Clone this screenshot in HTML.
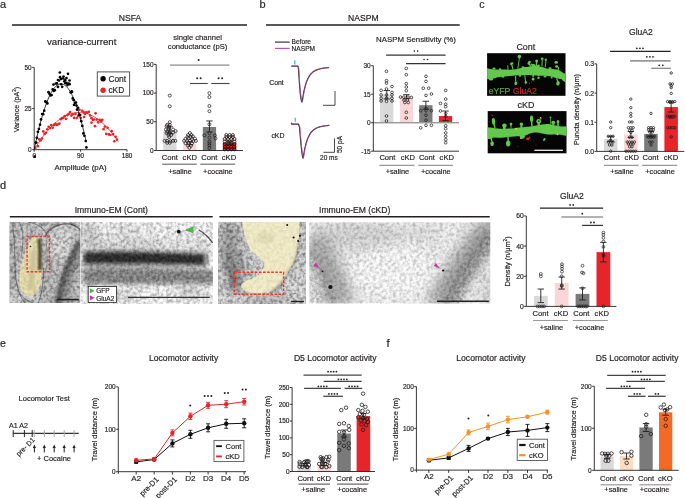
<!DOCTYPE html><html><head><meta charset="utf-8"><title>Figure</title><style>html,body{margin:0;padding:0;background:#fff;width:685px;height:498px;overflow:hidden;}svg{display:block;font-family:"Liberation Sans", sans-serif;will-change:transform;}</style></head><body><svg width="685" height="498" viewBox="0 0 685 498" font-family='"Liberation Sans", sans-serif'><defs><filter id="nz" x="0" y="0" width="100%" height="100%" color-interpolation-filters="sRGB"><feTurbulence type="fractalNoise" baseFrequency="0.3" numOctaves="2" seed="4"/><feColorMatrix type="matrix" values="1.2 0 0 0 0.25  1.2 0 0 0 0.25  1.2 0 0 0 0.25  0 0 0 0 1"/><feGaussianBlur stdDeviation="0.7"/></filter><filter id="nz2" x="0" y="0" width="100%" height="100%" color-interpolation-filters="sRGB"><feTurbulence type="fractalNoise" baseFrequency="0.3" numOctaves="2" seed="9"/><feColorMatrix type="matrix" values="1.3 0 0 0 0.2  1.3 0 0 0 0.2  1.3 0 0 0 0.2  0 0 0 0 1"/><feGaussianBlur stdDeviation="0.5"/></filter><filter id="nzin" x="-10%" y="-10%" width="120%" height="120%" color-interpolation-filters="sRGB"><feGaussianBlur in="SourceAlpha" stdDeviation="2" result="a"/><feTurbulence type="fractalNoise" baseFrequency="0.35" numOctaves="2" seed="11"/><feColorMatrix type="matrix" values="1.6 0 0 0 -0.1  1.6 0 0 0 -0.1  1.6 0 0 0 -0.1  0 0 0 0 1"/><feGaussianBlur stdDeviation="0.5"/><feComposite in2="a" operator="in"/></filter><filter id="b0_6" x="-50%" y="-50%" width="200%" height="200%"><feGaussianBlur stdDeviation="0.6"/></filter><filter id="b0_8" x="-50%" y="-50%" width="200%" height="200%"><feGaussianBlur stdDeviation="0.8"/></filter><filter id="b1" x="-50%" y="-50%" width="200%" height="200%"><feGaussianBlur stdDeviation="1"/></filter><filter id="b1_2" x="-50%" y="-50%" width="200%" height="200%"><feGaussianBlur stdDeviation="1.2"/></filter><filter id="b1_5" x="-50%" y="-50%" width="200%" height="200%"><feGaussianBlur stdDeviation="1.5"/></filter><filter id="b2" x="-50%" y="-50%" width="200%" height="200%"><feGaussianBlur stdDeviation="2"/></filter><filter id="b2_5" x="-50%" y="-50%" width="200%" height="200%"><feGaussianBlur stdDeviation="2.5"/></filter><filter id="b3" x="-50%" y="-50%" width="200%" height="200%"><feGaussianBlur stdDeviation="3"/></filter><filter id="b4" x="-50%" y="-50%" width="200%" height="200%"><feGaussianBlur stdDeviation="4"/></filter><filter id="b5" x="-50%" y="-50%" width="200%" height="200%"><feGaussianBlur stdDeviation="5"/></filter><filter id="b6" x="-50%" y="-50%" width="200%" height="200%"><feGaussianBlur stdDeviation="6"/></filter><clipPath id="ci1"><rect x="487.1" y="53.2" width="78.4" height="42.6"/></clipPath><clipPath id="ci2"><rect x="487.7" y="111.1" width="78.8" height="42.2"/></clipPath><clipPath id="em1"><rect x="9.4" y="222" width="71" height="81"/></clipPath><clipPath id="em2"><rect x="81.7" y="222.1" width="130.6" height="81.3"/></clipPath><clipPath id="em3"><rect x="218" y="222" width="88" height="82"/></clipPath><clipPath id="em4"><rect x="309.2" y="222.2" width="181.1" height="81.2"/></clipPath></defs><rect width="685" height="498" fill="#fff"/><text x="0.00" y="7.90" font-size="11" text-anchor="start" fill="#231f20" stroke="#231f20" stroke-width="0.18">a</text>
<text x="130.00" y="21.20" font-size="8.6" text-anchor="middle" fill="#231f20" stroke="#231f20" stroke-width="0.18">NSFA</text>
<line x1="12.00" y1="25.00" x2="247.00" y2="25.00" stroke="#231f20" stroke-width="1.6"/>
<text x="47.00" y="45.00" font-size="9.6" text-anchor="start" fill="#231f20" stroke="#231f20" stroke-width="0.18">variance-current</text>
<line x1="34.20" y1="67.40" x2="34.20" y2="149.70" stroke="#231f20" stroke-width="0.9"/>
<line x1="32.20" y1="67.40" x2="34.20" y2="67.40" stroke="#231f20" stroke-width="0.9"/>
<text x="31.60" y="69.70" font-size="6.4" text-anchor="end" fill="#231f20" stroke="#231f20" stroke-width="0.18">50</text>
<line x1="32.20" y1="108.55" x2="34.20" y2="108.55" stroke="#231f20" stroke-width="0.9"/>
<text x="31.60" y="110.85" font-size="6.4" text-anchor="end" fill="#231f20" stroke="#231f20" stroke-width="0.18">25</text>
<line x1="32.20" y1="149.70" x2="34.20" y2="149.70" stroke="#231f20" stroke-width="0.9"/>
<text x="31.60" y="152.00" font-size="6.4" text-anchor="end" fill="#231f20" stroke="#231f20" stroke-width="0.18">0</text>
<line x1="34.20" y1="149.70" x2="127.00" y2="149.70" stroke="#231f20" stroke-width="0.9"/>
<line x1="34.20" y1="149.70" x2="34.20" y2="151.70" stroke="#231f20" stroke-width="0.9"/>
<text x="34.20" y="157.90" font-size="6.4" text-anchor="middle" fill="#231f20" stroke="#231f20" stroke-width="0.18">0</text>
<line x1="80.60" y1="149.70" x2="80.60" y2="151.70" stroke="#231f20" stroke-width="0.9"/>
<text x="80.60" y="157.90" font-size="6.4" text-anchor="middle" fill="#231f20" stroke="#231f20" stroke-width="0.18">90</text>
<line x1="127.00" y1="149.70" x2="127.00" y2="151.70" stroke="#231f20" stroke-width="0.9"/>
<text x="127.00" y="157.90" font-size="6.4" text-anchor="middle" fill="#231f20" stroke="#231f20" stroke-width="0.18">180</text>
<text x="80.50" y="169.70" font-size="7.9" text-anchor="middle" fill="#231f20" stroke="#231f20" stroke-width="0.18">Amplitude (pA)</text>
<text x="18.60" y="109.60" font-size="7.1" text-anchor="middle" fill="#231f20" stroke="#231f20" stroke-width="0.18" transform="rotate(-90 18.6 109.6)">Variance (pA<tspan font-size="4.6" dy="-2.6">2</tspan><tspan dy="2.6">)</tspan></text>
<path d="M34.20,149.70 L35.60,147.40 L37.00,145.17 L38.40,143.02 L39.80,140.94 L41.20,138.93 L42.60,137.00 L44.00,135.14 L45.40,133.36 L46.81,131.64 L48.21,130.00 L49.61,128.44 L51.01,126.94 L52.41,125.52 L53.81,124.18 L55.21,122.91 L56.61,121.71 L58.01,120.58 L59.41,119.53 L60.81,118.55 L62.21,117.64 L63.61,116.81 L65.01,116.05 L66.41,115.37 L67.81,114.76 L69.21,114.22 L70.62,113.75 L72.02,113.36 L73.42,113.04 L74.82,112.80 L76.22,112.62 L77.62,112.53 L79.02,112.50 L80.42,112.55 L81.82,112.67 L83.22,112.87 L84.62,113.14 L86.02,113.48 L87.42,113.89 L88.82,114.38 L90.22,114.94 L91.62,115.58 L93.02,116.29 L94.43,117.07 L95.83,117.93 L97.23,118.85 L98.63,119.86 L100.03,120.93 L101.43,122.08 L102.83,123.30 L104.23,124.60 L105.63,125.97 L107.03,127.41 L108.43,128.93 L109.83,130.52 L111.23,132.18 L112.63,133.92 L114.03,135.73 L115.43,137.61 L116.83,139.57 L118.24,141.60" fill="none" stroke="#e6242a" stroke-width="0.8"/>
<circle cx="35.23" cy="147.77" r="1.35" fill="#e6242a" stroke="none" stroke-width="0"/>
<circle cx="36.57" cy="142.76" r="1.35" fill="#e6242a" stroke="none" stroke-width="0"/>
<circle cx="37.91" cy="146.06" r="1.35" fill="#e6242a" stroke="none" stroke-width="0"/>
<circle cx="39.25" cy="139.30" r="1.35" fill="#e6242a" stroke="none" stroke-width="0"/>
<circle cx="40.59" cy="140.44" r="1.35" fill="#e6242a" stroke="none" stroke-width="0"/>
<circle cx="41.93" cy="138.56" r="1.35" fill="#e6242a" stroke="none" stroke-width="0"/>
<circle cx="43.27" cy="131.41" r="1.35" fill="#e6242a" stroke="none" stroke-width="0"/>
<circle cx="44.61" cy="133.97" r="1.35" fill="#e6242a" stroke="none" stroke-width="0"/>
<circle cx="45.95" cy="132.78" r="1.35" fill="#e6242a" stroke="none" stroke-width="0"/>
<circle cx="47.30" cy="129.26" r="1.35" fill="#e6242a" stroke="none" stroke-width="0"/>
<circle cx="48.64" cy="126.73" r="1.35" fill="#e6242a" stroke="none" stroke-width="0"/>
<circle cx="49.98" cy="128.11" r="1.35" fill="#e6242a" stroke="none" stroke-width="0"/>
<circle cx="51.32" cy="125.17" r="1.35" fill="#e6242a" stroke="none" stroke-width="0"/>
<circle cx="52.66" cy="127.68" r="1.35" fill="#e6242a" stroke="none" stroke-width="0"/>
<circle cx="54.00" cy="124.91" r="1.35" fill="#e6242a" stroke="none" stroke-width="0"/>
<circle cx="55.34" cy="123.87" r="1.35" fill="#e6242a" stroke="none" stroke-width="0"/>
<circle cx="56.68" cy="124.94" r="1.35" fill="#e6242a" stroke="none" stroke-width="0"/>
<circle cx="58.02" cy="124.30" r="1.35" fill="#e6242a" stroke="none" stroke-width="0"/>
<circle cx="59.36" cy="123.58" r="1.35" fill="#e6242a" stroke="none" stroke-width="0"/>
<circle cx="60.70" cy="119.21" r="1.35" fill="#e6242a" stroke="none" stroke-width="0"/>
<circle cx="62.04" cy="118.18" r="1.35" fill="#e6242a" stroke="none" stroke-width="0"/>
<circle cx="63.38" cy="117.74" r="1.35" fill="#e6242a" stroke="none" stroke-width="0"/>
<circle cx="64.72" cy="116.04" r="1.35" fill="#e6242a" stroke="none" stroke-width="0"/>
<circle cx="66.06" cy="118.83" r="1.35" fill="#e6242a" stroke="none" stroke-width="0"/>
<circle cx="67.40" cy="115.12" r="1.35" fill="#e6242a" stroke="none" stroke-width="0"/>
<circle cx="68.74" cy="113.80" r="1.35" fill="#e6242a" stroke="none" stroke-width="0"/>
<circle cx="70.08" cy="112.07" r="1.35" fill="#e6242a" stroke="none" stroke-width="0"/>
<circle cx="71.42" cy="115.61" r="1.35" fill="#e6242a" stroke="none" stroke-width="0"/>
<circle cx="72.76" cy="114.17" r="1.35" fill="#e6242a" stroke="none" stroke-width="0"/>
<circle cx="74.10" cy="117.89" r="1.35" fill="#e6242a" stroke="none" stroke-width="0"/>
<circle cx="75.44" cy="113.95" r="1.35" fill="#e6242a" stroke="none" stroke-width="0"/>
<circle cx="76.78" cy="118.00" r="1.35" fill="#e6242a" stroke="none" stroke-width="0"/>
<circle cx="78.13" cy="116.01" r="1.35" fill="#e6242a" stroke="none" stroke-width="0"/>
<circle cx="79.47" cy="109.79" r="1.35" fill="#e6242a" stroke="none" stroke-width="0"/>
<circle cx="80.81" cy="118.01" r="1.35" fill="#e6242a" stroke="none" stroke-width="0"/>
<circle cx="82.15" cy="110.74" r="1.35" fill="#e6242a" stroke="none" stroke-width="0"/>
<circle cx="83.49" cy="112.10" r="1.35" fill="#e6242a" stroke="none" stroke-width="0"/>
<circle cx="84.83" cy="113.95" r="1.35" fill="#e6242a" stroke="none" stroke-width="0"/>
<circle cx="86.17" cy="112.38" r="1.35" fill="#e6242a" stroke="none" stroke-width="0"/>
<circle cx="87.51" cy="112.62" r="1.35" fill="#e6242a" stroke="none" stroke-width="0"/>
<circle cx="88.85" cy="111.81" r="1.35" fill="#e6242a" stroke="none" stroke-width="0"/>
<circle cx="90.19" cy="115.50" r="1.35" fill="#e6242a" stroke="none" stroke-width="0"/>
<circle cx="91.53" cy="118.18" r="1.35" fill="#e6242a" stroke="none" stroke-width="0"/>
<circle cx="92.87" cy="119.78" r="1.35" fill="#e6242a" stroke="none" stroke-width="0"/>
<circle cx="94.21" cy="119.50" r="1.35" fill="#e6242a" stroke="none" stroke-width="0"/>
<circle cx="95.55" cy="113.35" r="1.35" fill="#e6242a" stroke="none" stroke-width="0"/>
<circle cx="96.89" cy="119.57" r="1.35" fill="#e6242a" stroke="none" stroke-width="0"/>
<circle cx="98.23" cy="122.33" r="1.35" fill="#e6242a" stroke="none" stroke-width="0"/>
<circle cx="99.57" cy="119.84" r="1.35" fill="#e6242a" stroke="none" stroke-width="0"/>
<circle cx="100.91" cy="120.74" r="1.35" fill="#e6242a" stroke="none" stroke-width="0"/>
<circle cx="102.25" cy="119.80" r="1.35" fill="#e6242a" stroke="none" stroke-width="0"/>
<circle cx="103.59" cy="129.18" r="1.35" fill="#e6242a" stroke="none" stroke-width="0"/>
<circle cx="104.93" cy="126.53" r="1.35" fill="#e6242a" stroke="none" stroke-width="0"/>
<circle cx="106.27" cy="133.90" r="1.35" fill="#e6242a" stroke="none" stroke-width="0"/>
<circle cx="107.62" cy="127.77" r="1.35" fill="#e6242a" stroke="none" stroke-width="0"/>
<circle cx="108.96" cy="134.46" r="1.35" fill="#e6242a" stroke="none" stroke-width="0"/>
<circle cx="110.30" cy="135.02" r="1.35" fill="#e6242a" stroke="none" stroke-width="0"/>
<circle cx="111.64" cy="131.16" r="1.35" fill="#e6242a" stroke="none" stroke-width="0"/>
<circle cx="112.98" cy="134.22" r="1.35" fill="#e6242a" stroke="none" stroke-width="0"/>
<circle cx="114.32" cy="141.24" r="1.35" fill="#e6242a" stroke="none" stroke-width="0"/>
<circle cx="115.66" cy="136.77" r="1.35" fill="#e6242a" stroke="none" stroke-width="0"/>
<circle cx="117.00" cy="139.64" r="1.35" fill="#e6242a" stroke="none" stroke-width="0"/>
<circle cx="91.50" cy="122.60" r="1.35" fill="#e6242a" stroke="none" stroke-width="0"/>
<circle cx="95.00" cy="126.20" r="1.35" fill="#e6242a" stroke="none" stroke-width="0"/>
<circle cx="84.00" cy="117.00" r="1.35" fill="#e6242a" stroke="none" stroke-width="0"/>
<circle cx="101.00" cy="121.50" r="1.35" fill="#e6242a" stroke="none" stroke-width="0"/>
<circle cx="34.72" cy="156.69" r="1.35" fill="#000" stroke="none" stroke-width="0"/>
<circle cx="35.77" cy="142.53" r="1.35" fill="#000" stroke="none" stroke-width="0"/>
<circle cx="36.83" cy="137.80" r="1.35" fill="#000" stroke="none" stroke-width="0"/>
<circle cx="37.89" cy="131.86" r="1.35" fill="#000" stroke="none" stroke-width="0"/>
<circle cx="38.94" cy="129.00" r="1.35" fill="#000" stroke="none" stroke-width="0"/>
<circle cx="40.00" cy="124.68" r="1.35" fill="#000" stroke="none" stroke-width="0"/>
<circle cx="41.06" cy="119.45" r="1.35" fill="#000" stroke="none" stroke-width="0"/>
<circle cx="42.11" cy="114.02" r="1.35" fill="#000" stroke="none" stroke-width="0"/>
<circle cx="43.17" cy="114.19" r="1.35" fill="#000" stroke="none" stroke-width="0"/>
<circle cx="44.23" cy="110.64" r="1.35" fill="#000" stroke="none" stroke-width="0"/>
<circle cx="45.28" cy="101.40" r="1.35" fill="#000" stroke="none" stroke-width="0"/>
<circle cx="46.34" cy="102.17" r="1.35" fill="#000" stroke="none" stroke-width="0"/>
<circle cx="47.40" cy="103.43" r="1.35" fill="#000" stroke="none" stroke-width="0"/>
<circle cx="48.46" cy="92.18" r="1.35" fill="#000" stroke="none" stroke-width="0"/>
<circle cx="49.51" cy="93.93" r="1.35" fill="#000" stroke="none" stroke-width="0"/>
<circle cx="50.57" cy="95.40" r="1.35" fill="#000" stroke="none" stroke-width="0"/>
<circle cx="51.63" cy="95.02" r="1.35" fill="#000" stroke="none" stroke-width="0"/>
<circle cx="52.68" cy="89.43" r="1.35" fill="#000" stroke="none" stroke-width="0"/>
<circle cx="53.74" cy="90.89" r="1.35" fill="#000" stroke="none" stroke-width="0"/>
<circle cx="54.80" cy="90.18" r="1.35" fill="#000" stroke="none" stroke-width="0"/>
<circle cx="55.85" cy="83.52" r="1.35" fill="#000" stroke="none" stroke-width="0"/>
<circle cx="56.91" cy="83.39" r="1.35" fill="#000" stroke="none" stroke-width="0"/>
<circle cx="57.97" cy="86.96" r="1.35" fill="#000" stroke="none" stroke-width="0"/>
<circle cx="59.02" cy="80.48" r="1.35" fill="#000" stroke="none" stroke-width="0"/>
<circle cx="60.08" cy="77.16" r="1.35" fill="#000" stroke="none" stroke-width="0"/>
<circle cx="61.14" cy="84.23" r="1.35" fill="#000" stroke="none" stroke-width="0"/>
<circle cx="62.19" cy="86.84" r="1.35" fill="#000" stroke="none" stroke-width="0"/>
<circle cx="63.25" cy="78.50" r="1.35" fill="#000" stroke="none" stroke-width="0"/>
<circle cx="64.31" cy="81.35" r="1.35" fill="#000" stroke="none" stroke-width="0"/>
<circle cx="65.37" cy="83.21" r="1.35" fill="#000" stroke="none" stroke-width="0"/>
<circle cx="66.42" cy="82.95" r="1.35" fill="#000" stroke="none" stroke-width="0"/>
<circle cx="67.48" cy="85.05" r="1.35" fill="#000" stroke="none" stroke-width="0"/>
<circle cx="68.54" cy="83.68" r="1.35" fill="#000" stroke="none" stroke-width="0"/>
<circle cx="69.59" cy="84.14" r="1.35" fill="#000" stroke="none" stroke-width="0"/>
<circle cx="70.65" cy="92.40" r="1.35" fill="#000" stroke="none" stroke-width="0"/>
<circle cx="71.71" cy="91.44" r="1.35" fill="#000" stroke="none" stroke-width="0"/>
<circle cx="72.76" cy="98.45" r="1.35" fill="#000" stroke="none" stroke-width="0"/>
<circle cx="73.82" cy="100.17" r="1.35" fill="#000" stroke="none" stroke-width="0"/>
<circle cx="74.88" cy="102.98" r="1.35" fill="#000" stroke="none" stroke-width="0"/>
<circle cx="75.93" cy="102.55" r="1.35" fill="#000" stroke="none" stroke-width="0"/>
<circle cx="76.99" cy="109.67" r="1.35" fill="#000" stroke="none" stroke-width="0"/>
<circle cx="78.05" cy="107.86" r="1.35" fill="#000" stroke="none" stroke-width="0"/>
<circle cx="79.10" cy="114.66" r="1.35" fill="#000" stroke="none" stroke-width="0"/>
<circle cx="80.16" cy="115.03" r="1.35" fill="#000" stroke="none" stroke-width="0"/>
<circle cx="81.22" cy="121.19" r="1.35" fill="#000" stroke="none" stroke-width="0"/>
<circle cx="82.28" cy="125.90" r="1.35" fill="#000" stroke="none" stroke-width="0"/>
<circle cx="83.33" cy="133.40" r="1.35" fill="#000" stroke="none" stroke-width="0"/>
<circle cx="84.39" cy="135.75" r="1.35" fill="#000" stroke="none" stroke-width="0"/>
<circle cx="59.80" cy="72.50" r="1.35" fill="#000" stroke="none" stroke-width="0"/>
<circle cx="63.50" cy="76.50" r="1.35" fill="#000" stroke="none" stroke-width="0"/>
<circle cx="68.00" cy="73.80" r="1.35" fill="#000" stroke="none" stroke-width="0"/>
<circle cx="65.30" cy="80.00" r="1.35" fill="#000" stroke="none" stroke-width="0"/>
<circle cx="58.00" cy="80.00" r="1.35" fill="#000" stroke="none" stroke-width="0"/>
<circle cx="53.50" cy="84.60" r="1.35" fill="#000" stroke="none" stroke-width="0"/>
<circle cx="66.50" cy="78.00" r="1.35" fill="#000" stroke="none" stroke-width="0"/>
<circle cx="61.00" cy="79.00" r="1.35" fill="#000" stroke="none" stroke-width="0"/>
<circle cx="69.50" cy="80.50" r="1.35" fill="#000" stroke="none" stroke-width="0"/>
<circle cx="72.00" cy="92.00" r="1.35" fill="#000" stroke="none" stroke-width="0"/>
<circle cx="74.00" cy="105.00" r="1.35" fill="#000" stroke="none" stroke-width="0"/>
<circle cx="76.50" cy="105.50" r="1.35" fill="#000" stroke="none" stroke-width="0"/>
<circle cx="85.70" cy="141.00" r="1.35" fill="#000" stroke="none" stroke-width="0"/>
<circle cx="86.40" cy="147.40" r="1.35" fill="#000" stroke="none" stroke-width="0"/>
<path d="M34.20,149.70 L35.07,145.51 L35.94,141.45 L36.80,137.53 L37.67,133.75 L38.54,130.11 L39.41,126.61 L40.27,123.24 L41.14,120.01 L42.01,116.92 L42.88,113.97 L43.75,111.16 L44.61,108.48 L45.48,105.94 L46.35,103.55 L47.22,101.28 L48.09,99.16 L48.95,97.17 L49.82,95.33 L50.69,93.62 L51.56,92.04 L52.42,90.61 L53.29,89.31 L54.16,88.16 L55.03,87.14 L55.90,86.25 L56.76,85.51 L57.63,84.90 L58.50,84.44 L59.37,84.11 L60.24,83.91 L61.10,83.86 L61.97,83.94 L62.84,84.17 L63.71,84.53 L64.57,85.02 L65.44,85.66 L66.31,86.43 L67.18,87.35 L68.05,88.40 L68.91,89.58 L69.78,90.91 L70.65,92.37 L71.52,93.98 L72.39,95.72 L73.25,97.59 L74.12,99.61 L74.99,101.76 L75.86,104.06 L76.72,106.49 L77.59,109.05 L78.46,111.76 L79.33,114.60 L80.20,117.59 L81.06,120.71 L81.93,123.96 L82.80,127.36 L83.67,130.89 L84.54,134.56 L85.40,138.37 L86.27,142.32" fill="none" stroke="#000" stroke-width="0.8"/>
<rect x="97.3" y="71.9" width="32.3" height="24.2" fill="#fff" stroke="#555" stroke-width="1"/>
<circle cx="103.10" cy="78.70" r="2.7" fill="#000" stroke="none" stroke-width="0"/>
<text x="108.40" y="81.80" font-size="8.4" text-anchor="start" fill="#231f20" stroke="#231f20" stroke-width="0.18">Cont</text>
<circle cx="103.10" cy="90.20" r="2.7" fill="#e6242a" stroke="none" stroke-width="0"/>
<text x="108.40" y="92.60" font-size="8.4" text-anchor="start" fill="#231f20" stroke="#231f20" stroke-width="0.18">cKD</text>
<text x="197.60" y="40.00" font-size="7.6" text-anchor="middle" fill="#231f20" stroke="#231f20" stroke-width="0.18">single channel</text>
<text x="197.60" y="49.00" font-size="7.6" text-anchor="middle" fill="#231f20" stroke="#231f20" stroke-width="0.18">conductance (pS)</text>
<line x1="156.20" y1="64.40" x2="156.20" y2="150.50" stroke="#231f20" stroke-width="0.9"/>
<line x1="154.00" y1="64.40" x2="156.20" y2="64.40" stroke="#231f20" stroke-width="0.9"/>
<text x="153.60" y="66.74" font-size="6.5" text-anchor="end" fill="#231f20" stroke="#231f20" stroke-width="0.18">150</text>
<line x1="154.00" y1="93.10" x2="156.20" y2="93.10" stroke="#231f20" stroke-width="0.9"/>
<text x="153.60" y="95.44" font-size="6.5" text-anchor="end" fill="#231f20" stroke="#231f20" stroke-width="0.18">100</text>
<line x1="154.00" y1="121.80" x2="156.20" y2="121.80" stroke="#231f20" stroke-width="0.9"/>
<text x="153.60" y="124.14" font-size="6.5" text-anchor="end" fill="#231f20" stroke="#231f20" stroke-width="0.18">50</text>
<line x1="154.00" y1="150.50" x2="156.20" y2="150.50" stroke="#231f20" stroke-width="0.9"/>
<text x="153.60" y="152.84" font-size="6.5" text-anchor="end" fill="#231f20" stroke="#231f20" stroke-width="0.18">0</text>
<rect x="163.20" y="130.81" width="13.30" height="19.69" fill="#d9d9d9"/>
<rect x="183.20" y="143.32" width="13.30" height="7.18" fill="#f9d6d7"/>
<rect x="202.80" y="126.97" width="13.30" height="23.53" fill="#7a7a7a"/>
<rect x="222.90" y="143.04" width="13.30" height="7.46" fill="#e6242a"/>
<line x1="156.20" y1="150.50" x2="243.00" y2="150.50" stroke="#231f20" stroke-width="0.9"/>
<circle cx="169.79" cy="95.57" r="1.5" fill="none" stroke="#231f20" stroke-width="0.75"/>
<circle cx="169.79" cy="106.28" r="1.5" fill="none" stroke="#231f20" stroke-width="0.75"/>
<circle cx="169.79" cy="122.20" r="1.5" fill="none" stroke="#231f20" stroke-width="0.75"/>
<circle cx="167.18" cy="124.81" r="1.5" fill="none" stroke="#231f20" stroke-width="0.75"/>
<circle cx="169.79" cy="124.81" r="1.5" fill="none" stroke="#231f20" stroke-width="0.75"/>
<circle cx="166.53" cy="126.12" r="1.5" fill="none" stroke="#231f20" stroke-width="0.75"/>
<circle cx="169.14" cy="126.51" r="1.5" fill="none" stroke="#231f20" stroke-width="0.75"/>
<circle cx="169.14" cy="127.82" r="1.5" fill="none" stroke="#231f20" stroke-width="0.75"/>
<circle cx="165.87" cy="129.51" r="1.5" fill="none" stroke="#231f20" stroke-width="0.75"/>
<circle cx="168.49" cy="129.51" r="1.5" fill="none" stroke="#231f20" stroke-width="0.75"/>
<circle cx="173.05" cy="129.51" r="1.5" fill="none" stroke="#231f20" stroke-width="0.75"/>
<circle cx="167.18" cy="131.34" r="1.5" fill="none" stroke="#231f20" stroke-width="0.75"/>
<circle cx="169.79" cy="131.08" r="1.5" fill="none" stroke="#231f20" stroke-width="0.75"/>
<circle cx="175.67" cy="131.08" r="1.5" fill="none" stroke="#231f20" stroke-width="0.75"/>
<circle cx="166.53" cy="133.04" r="1.5" fill="none" stroke="#231f20" stroke-width="0.75"/>
<circle cx="169.79" cy="133.04" r="1.5" fill="none" stroke="#231f20" stroke-width="0.75"/>
<circle cx="173.05" cy="132.65" r="1.5" fill="none" stroke="#231f20" stroke-width="0.75"/>
<circle cx="168.49" cy="135.00" r="1.5" fill="none" stroke="#231f20" stroke-width="0.75"/>
<circle cx="171.10" cy="135.00" r="1.5" fill="none" stroke="#231f20" stroke-width="0.75"/>
<circle cx="169.14" cy="136.96" r="1.5" fill="none" stroke="#231f20" stroke-width="0.75"/>
<circle cx="164.57" cy="140.87" r="1.5" fill="none" stroke="#231f20" stroke-width="0.75"/>
<circle cx="167.18" cy="140.87" r="1.5" fill="none" stroke="#231f20" stroke-width="0.75"/>
<circle cx="170.44" cy="141.26" r="1.5" fill="none" stroke="#231f20" stroke-width="0.75"/>
<circle cx="173.05" cy="140.87" r="1.5" fill="none" stroke="#231f20" stroke-width="0.75"/>
<circle cx="175.40" cy="140.87" r="1.5" fill="none" stroke="#231f20" stroke-width="0.75"/>
<circle cx="167.18" cy="142.83" r="1.5" fill="none" stroke="#231f20" stroke-width="0.75"/>
<circle cx="169.79" cy="142.83" r="1.5" fill="none" stroke="#231f20" stroke-width="0.75"/>
<circle cx="189.90" cy="133.04" r="1.5" fill="none" stroke="#231f20" stroke-width="0.75"/>
<circle cx="188.07" cy="135.00" r="1.5" fill="none" stroke="#231f20" stroke-width="0.75"/>
<circle cx="191.33" cy="135.00" r="1.5" fill="none" stroke="#231f20" stroke-width="0.75"/>
<circle cx="187.42" cy="136.96" r="1.5" fill="none" stroke="#231f20" stroke-width="0.75"/>
<circle cx="190.68" cy="136.96" r="1.5" fill="none" stroke="#231f20" stroke-width="0.75"/>
<circle cx="192.90" cy="136.30" r="1.5" fill="none" stroke="#231f20" stroke-width="0.75"/>
<circle cx="185.46" cy="138.91" r="1.5" fill="none" stroke="#231f20" stroke-width="0.75"/>
<circle cx="188.72" cy="138.39" r="1.5" fill="none" stroke="#231f20" stroke-width="0.75"/>
<circle cx="191.98" cy="139.17" r="1.5" fill="none" stroke="#231f20" stroke-width="0.75"/>
<circle cx="194.99" cy="138.65" r="1.5" fill="none" stroke="#231f20" stroke-width="0.75"/>
<circle cx="184.15" cy="140.87" r="1.5" fill="none" stroke="#231f20" stroke-width="0.75"/>
<circle cx="187.02" cy="141.13" r="1.5" fill="none" stroke="#231f20" stroke-width="0.75"/>
<circle cx="190.03" cy="140.61" r="1.5" fill="none" stroke="#231f20" stroke-width="0.75"/>
<circle cx="193.29" cy="141.13" r="1.5" fill="none" stroke="#231f20" stroke-width="0.75"/>
<circle cx="195.90" cy="140.87" r="1.5" fill="none" stroke="#231f20" stroke-width="0.75"/>
<circle cx="185.46" cy="143.09" r="1.5" fill="none" stroke="#231f20" stroke-width="0.75"/>
<circle cx="188.72" cy="142.83" r="1.5" fill="none" stroke="#231f20" stroke-width="0.75"/>
<circle cx="191.98" cy="143.35" r="1.5" fill="none" stroke="#231f20" stroke-width="0.75"/>
<circle cx="187.81" cy="145.44" r="1.5" fill="none" stroke="#231f20" stroke-width="0.75"/>
<circle cx="190.94" cy="145.70" r="1.5" fill="none" stroke="#231f20" stroke-width="0.75"/>
<circle cx="189.37" cy="147.79" r="1.5" fill="none" stroke="#231f20" stroke-width="0.75"/>
<circle cx="209.40" cy="93.20" r="1.5" fill="none" stroke="#231f20" stroke-width="0.75"/>
<circle cx="209.40" cy="97.10" r="1.5" fill="none" stroke="#231f20" stroke-width="0.75"/>
<circle cx="209.40" cy="106.00" r="1.5" fill="none" stroke="#231f20" stroke-width="0.75"/>
<circle cx="209.40" cy="111.20" r="1.5" fill="none" stroke="#231f20" stroke-width="0.75"/>
<circle cx="209.40" cy="124.30" r="1.5" fill="none" stroke="#231f20" stroke-width="0.75"/>
<circle cx="209.40" cy="133.40" r="1.5" fill="none" stroke="#231f20" stroke-width="0.75"/>
<circle cx="209.40" cy="137.60" r="1.5" fill="none" stroke="#231f20" stroke-width="0.75"/>
<circle cx="209.40" cy="141.50" r="1.5" fill="none" stroke="#231f20" stroke-width="0.75"/>
<circle cx="209.40" cy="143.50" r="1.5" fill="none" stroke="#231f20" stroke-width="0.75"/>
<circle cx="209.40" cy="145.40" r="1.5" fill="none" stroke="#231f20" stroke-width="0.75"/>
<circle cx="209.40" cy="148.00" r="1.5" fill="none" stroke="#231f20" stroke-width="0.75"/>
<circle cx="204.40" cy="135.30" r="1.5" fill="none" stroke="#231f20" stroke-width="0.75"/>
<circle cx="214.80" cy="135.30" r="1.5" fill="none" stroke="#231f20" stroke-width="0.75"/>
<circle cx="215.50" cy="138.30" r="1.5" fill="none" stroke="#231f20" stroke-width="0.75"/>
<circle cx="226.30" cy="135.00" r="1.5" fill="none" stroke="#1a0808" stroke-width="0.75"/>
<circle cx="229.60" cy="135.00" r="1.5" fill="none" stroke="#1a0808" stroke-width="0.75"/>
<circle cx="232.90" cy="135.00" r="1.5" fill="none" stroke="#1a0808" stroke-width="0.75"/>
<circle cx="226.30" cy="137.00" r="1.5" fill="none" stroke="#1a0808" stroke-width="0.75"/>
<circle cx="229.60" cy="137.00" r="1.5" fill="none" stroke="#1a0808" stroke-width="0.75"/>
<circle cx="232.90" cy="137.00" r="1.5" fill="none" stroke="#1a0808" stroke-width="0.75"/>
<circle cx="224.65" cy="139.00" r="1.5" fill="none" stroke="#1a0808" stroke-width="0.75"/>
<circle cx="227.95" cy="139.00" r="1.5" fill="none" stroke="#1a0808" stroke-width="0.75"/>
<circle cx="231.25" cy="139.00" r="1.5" fill="none" stroke="#1a0808" stroke-width="0.75"/>
<circle cx="234.55" cy="139.00" r="1.5" fill="none" stroke="#1a0808" stroke-width="0.75"/>
<circle cx="224.65" cy="141.50" r="1.5" fill="none" stroke="#1a0808" stroke-width="0.75"/>
<circle cx="227.95" cy="141.50" r="1.5" fill="none" stroke="#1a0808" stroke-width="0.75"/>
<circle cx="231.25" cy="141.50" r="1.5" fill="none" stroke="#1a0808" stroke-width="0.75"/>
<circle cx="234.55" cy="141.50" r="1.5" fill="none" stroke="#1a0808" stroke-width="0.75"/>
<circle cx="224.65" cy="144.00" r="1.5" fill="none" stroke="#1a0808" stroke-width="0.75"/>
<circle cx="227.95" cy="144.00" r="1.5" fill="none" stroke="#1a0808" stroke-width="0.75"/>
<circle cx="231.25" cy="144.00" r="1.5" fill="none" stroke="#1a0808" stroke-width="0.75"/>
<circle cx="234.55" cy="144.00" r="1.5" fill="none" stroke="#1a0808" stroke-width="0.75"/>
<circle cx="224.65" cy="146.80" r="1.5" fill="none" stroke="#1a0808" stroke-width="0.75"/>
<circle cx="227.95" cy="146.80" r="1.5" fill="none" stroke="#1a0808" stroke-width="0.75"/>
<circle cx="231.25" cy="146.80" r="1.5" fill="none" stroke="#1a0808" stroke-width="0.75"/>
<circle cx="234.55" cy="146.80" r="1.5" fill="none" stroke="#1a0808" stroke-width="0.75"/>
<circle cx="224.65" cy="149.40" r="1.5" fill="none" stroke="#1a0808" stroke-width="0.75"/>
<circle cx="227.95" cy="149.40" r="1.5" fill="none" stroke="#1a0808" stroke-width="0.75"/>
<circle cx="231.25" cy="149.40" r="1.5" fill="none" stroke="#1a0808" stroke-width="0.75"/>
<circle cx="234.55" cy="149.40" r="1.5" fill="none" stroke="#1a0808" stroke-width="0.75"/>
<line x1="169.85" y1="126.81" x2="169.85" y2="133.81" stroke="#231f20" stroke-width="0.9"/>
<line x1="166.65" y1="126.81" x2="173.05" y2="126.81" stroke="#231f20" stroke-width="0.9"/>
<line x1="166.65" y1="133.81" x2="173.05" y2="133.81" stroke="#231f20" stroke-width="0.9"/>
<line x1="189.85" y1="141.82" x2="189.85" y2="144.82" stroke="#231f20" stroke-width="0.9"/>
<line x1="186.65" y1="141.82" x2="193.05" y2="141.82" stroke="#231f20" stroke-width="0.9"/>
<line x1="186.65" y1="144.82" x2="193.05" y2="144.82" stroke="#231f20" stroke-width="0.9"/>
<line x1="209.45" y1="120.97" x2="209.45" y2="131.97" stroke="#231f20" stroke-width="0.9"/>
<line x1="206.25" y1="120.97" x2="212.65" y2="120.97" stroke="#231f20" stroke-width="0.9"/>
<line x1="206.25" y1="131.97" x2="212.65" y2="131.97" stroke="#231f20" stroke-width="0.9"/>
<line x1="229.55" y1="141.54" x2="229.55" y2="144.54" stroke="#231f20" stroke-width="0.9"/>
<line x1="226.35" y1="141.54" x2="232.75" y2="141.54" stroke="#231f20" stroke-width="0.9"/>
<line x1="226.35" y1="144.54" x2="232.75" y2="144.54" stroke="#231f20" stroke-width="0.9"/>
<line x1="169.90" y1="65.20" x2="229.50" y2="65.20" stroke="#8a8a8a" stroke-width="1.3"/>
<circle cx="198.60" cy="60.10" r="1.0" fill="#222" stroke="none" stroke-width="0"/>
<line x1="190.00" y1="83.50" x2="207.80" y2="83.50" stroke="#444" stroke-width="1.1"/>
<circle cx="197.15" cy="78.20" r="1.0" fill="#222" stroke="none" stroke-width="0"/>
<circle cx="200.65" cy="78.20" r="1.0" fill="#222" stroke="none" stroke-width="0"/>
<line x1="211.30" y1="83.50" x2="229.50" y2="83.50" stroke="#444" stroke-width="1.1"/>
<circle cx="218.65" cy="78.20" r="1.0" fill="#222" stroke="none" stroke-width="0"/>
<circle cx="222.15" cy="78.20" r="1.0" fill="#222" stroke="none" stroke-width="0"/>
<text x="169.80" y="160.20" font-size="7.6" text-anchor="middle" fill="#231f20" stroke="#231f20" stroke-width="0.18">Cont</text>
<text x="189.80" y="160.20" font-size="7.6" text-anchor="middle" fill="#231f20" stroke="#231f20" stroke-width="0.18">cKD</text>
<text x="209.30" y="160.20" font-size="7.6" text-anchor="middle" fill="#231f20" stroke="#231f20" stroke-width="0.18">Cont</text>
<text x="229.00" y="160.20" font-size="7.6" text-anchor="middle" fill="#231f20" stroke="#231f20" stroke-width="0.18">cKD</text>
<line x1="162.20" y1="164.20" x2="196.80" y2="164.20" stroke="#444" stroke-width="0.9"/>
<text x="180.00" y="174.20" font-size="7.35" text-anchor="middle" fill="#231f20" stroke="#231f20" stroke-width="0.18">+saline</text>
<line x1="200.30" y1="164.20" x2="235.20" y2="164.20" stroke="#444" stroke-width="0.9"/>
<text x="217.90" y="174.20" font-size="7.35" text-anchor="middle" fill="#231f20" stroke="#231f20" stroke-width="0.18">+cocaine</text>
<text x="259.40" y="7.80" font-size="11" text-anchor="start" fill="#231f20" stroke="#231f20" stroke-width="0.18">b</text>
<text x="348.00" y="21.30" font-size="8.6" text-anchor="start" fill="#231f20" stroke="#231f20" stroke-width="0.18">NASPM</text>
<line x1="266.00" y1="25.00" x2="459.70" y2="25.00" stroke="#231f20" stroke-width="1.6"/>
<line x1="275.00" y1="42.10" x2="289.70" y2="42.10" stroke="#444" stroke-width="1.3"/>
<line x1="275.00" y1="48.40" x2="289.70" y2="48.40" stroke="#c052ae" stroke-width="1.2"/>
<text x="291.60" y="44.30" font-size="6.6" text-anchor="start" fill="#231f20" stroke="#231f20" stroke-width="0.18">Before</text>
<text x="291.60" y="51.00" font-size="6.6" text-anchor="start" fill="#231f20" stroke="#231f20" stroke-width="0.18">NASPM</text>
<path d="M291.30,66.20 L291.80,66.20 L292.30,66.20 L292.80,66.20 L293.30,66.20 L293.80,66.20 L294.30,66.20 L294.80,66.20 L295.30,66.20 L295.80,66.20 L296.30,66.20 L296.80,66.20 L297.30,66.20 L297.80,66.20 L298.30,67.44 L298.66,71.07 L298.93,75.66 L299.19,79.88 L299.46,83.74 L299.72,87.23 L299.99,90.35 L300.25,93.11 L300.51,95.50 L300.78,97.52 L301.04,99.17 L301.31,100.46 L301.57,101.37 L301.84,101.92 L302.10,101.71 L302.35,100.46 L302.60,98.79 L302.85,97.22 L303.10,95.73 L303.35,94.32 L303.60,92.99 L303.85,91.73 L304.10,90.54 L304.35,89.41 L304.60,88.35 L304.85,87.34 L305.10,86.39 L305.35,85.48 L305.60,84.62 L305.85,83.81 L306.10,82.81 L306.70,81.40 L307.30,79.91 L307.90,78.60 L308.50,77.44 L309.10,76.41 L309.70,75.50 L310.30,74.69 L310.90,73.97 L311.50,73.33 L312.10,72.76 L312.70,72.24 L313.30,71.78 L313.90,71.37 L314.50,71.00 L315.10,70.66 L315.70,70.36 L316.30,70.09 L316.90,69.84 L317.50,69.61 L318.10,69.40 L318.70,69.21 L319.30,69.04 L319.90,68.88 L320.50,68.74 L321.10,68.61 L321.70,68.48 L322.30,68.37 L322.90,68.27 L323.50,68.17 L324.10,68.08 L324.70,68.00 L325.30,67.92 L325.90,67.85 L326.50,67.78 L327.10,67.72 L327.70,67.66 L328.30,67.61 L328.90,67.56" fill="none" stroke="#2a2a2a" stroke-width="1.2" stroke-linejoin="round"/>
<path d="M291.65,66.00 L292.15,66.00 L292.65,66.00 L293.15,66.00 L293.65,66.00 L294.15,66.00 L294.65,66.00 L295.15,66.00 L295.65,66.00 L296.15,66.00 L296.65,66.00 L297.15,66.00 L297.65,66.00 L298.15,66.00 L298.65,67.24 L299.01,70.87 L299.28,75.46 L299.54,79.68 L299.81,83.54 L300.07,87.03 L300.34,90.15 L300.60,92.91 L300.86,95.30 L301.13,97.32 L301.39,98.97 L301.66,100.26 L301.92,101.17 L302.19,101.72 L302.45,101.51 L302.70,100.26 L302.95,98.59 L303.20,97.02 L303.45,95.53 L303.70,94.12 L303.95,92.79 L304.20,91.53 L304.45,90.34 L304.70,89.21 L304.95,88.15 L305.20,87.14 L305.45,86.19 L305.70,85.28 L305.95,84.42 L306.20,83.61 L306.45,82.61 L307.05,81.20 L307.65,79.71 L308.25,78.40 L308.85,77.24 L309.45,76.21 L310.05,75.30 L310.65,74.49 L311.25,73.77 L311.85,73.13 L312.45,72.56 L313.05,72.04 L313.65,71.58 L314.25,71.17 L314.85,70.80 L315.45,70.46 L316.05,70.16 L316.65,69.89 L317.25,69.64 L317.85,69.41 L318.45,69.20 L319.05,69.01 L319.65,68.84 L320.25,68.68 L320.85,68.54 L321.45,68.41 L322.05,68.28 L322.65,68.17 L323.25,68.07 L323.85,67.97 L324.45,67.88 L325.05,67.80 L325.65,67.72 L326.25,67.65 L326.85,67.58 L327.45,67.52 L328.05,67.46 L328.65,67.41 L329.25,67.36" fill="none" stroke="#c052ae" stroke-width="0.7" stroke-linejoin="round"/>
<path d="M291.20,123.00 L292.40,124.00 L291.80,124.10 L292.30,124.10 L292.80,124.10 L293.30,124.10 L293.80,124.10 L294.30,124.10 L294.80,124.10 L295.30,124.10 L295.80,124.10 L296.30,124.10 L296.80,124.10 L297.30,124.10 L297.80,124.10 L298.30,124.10 L298.80,125.01 L299.57,127.70 L299.84,131.19 L300.11,134.53 L300.39,137.73 L300.66,140.78 L300.93,143.65 L301.20,146.36 L301.47,148.87 L301.74,151.18 L302.01,153.27 L302.29,155.11 L302.56,156.65 L302.83,157.80 L303.10,158.01 L303.35,156.93 L303.60,155.33 L303.85,153.81 L304.10,152.38 L304.35,151.03 L304.60,149.75 L304.85,148.55 L305.10,147.40 L305.35,146.32 L305.60,145.30 L305.85,144.33 L306.10,143.41 L306.35,142.54 L306.60,141.72 L306.85,140.94 L307.10,139.97 L307.70,138.62 L308.30,137.19 L308.90,135.93 L309.50,134.82 L310.10,133.83 L310.70,132.95 L311.30,132.18 L311.90,131.49 L312.50,130.87 L313.10,130.32 L313.70,129.83 L314.30,129.39 L314.90,128.99 L315.50,128.63 L316.10,128.31 L316.70,128.02 L317.30,127.76 L317.90,127.52 L318.50,127.30 L319.10,127.10 L319.70,126.92 L320.30,126.75 L320.90,126.60 L321.50,126.46 L322.10,126.33 L322.70,126.22 L323.30,126.11 L323.90,126.01 L324.50,125.91 L325.10,125.83 L325.70,125.75 L326.30,125.68 L326.90,125.61 L327.50,125.54 L328.10,125.48 L328.70,125.43 L329.30,125.38" fill="none" stroke="#2a2a2a" stroke-width="1.2" stroke-linejoin="round"/>
<path d="M291.55,122.80 L292.75,123.80 L292.15,123.90 L292.65,123.90 L293.15,123.90 L293.65,123.90 L294.15,123.90 L294.65,123.90 L295.15,123.90 L295.65,123.90 L296.15,123.90 L296.65,123.90 L297.15,123.90 L297.65,123.90 L298.15,123.90 L298.65,123.90 L299.15,124.81 L299.92,127.50 L300.19,130.99 L300.46,134.33 L300.74,137.53 L301.01,140.58 L301.28,143.45 L301.55,146.16 L301.82,148.67 L302.09,150.98 L302.36,153.07 L302.64,154.91 L302.91,156.45 L303.18,157.60 L303.45,157.81 L303.70,156.73 L303.95,155.13 L304.20,153.61 L304.45,152.18 L304.70,150.83 L304.95,149.55 L305.20,148.35 L305.45,147.20 L305.70,146.12 L305.95,145.10 L306.20,144.13 L306.45,143.21 L306.70,142.34 L306.95,141.52 L307.20,140.74 L307.45,139.77 L308.05,138.42 L308.65,136.99 L309.25,135.73 L309.85,134.62 L310.45,133.63 L311.05,132.75 L311.65,131.98 L312.25,131.29 L312.85,130.67 L313.45,130.12 L314.05,129.63 L314.65,129.19 L315.25,128.79 L315.85,128.43 L316.45,128.11 L317.05,127.82 L317.65,127.56 L318.25,127.32 L318.85,127.10 L319.45,126.90 L320.05,126.72 L320.65,126.55 L321.25,126.40 L321.85,126.26 L322.45,126.13 L323.05,126.02 L323.65,125.91 L324.25,125.81 L324.85,125.71 L325.45,125.63 L326.05,125.55 L326.65,125.48 L327.25,125.41 L327.85,125.34 L328.45,125.28 L329.05,125.23 L329.65,125.18" fill="none" stroke="#c052ae" stroke-width="0.7" stroke-linejoin="round"/>
<line x1="294.80" y1="60.30" x2="294.80" y2="64.50" stroke="#29abe2" stroke-width="1.1"/>
<line x1="295.20" y1="117.80" x2="295.20" y2="121.80" stroke="#29abe2" stroke-width="1.1"/>
<text x="269.20" y="85.40" font-size="6.9" text-anchor="start" fill="#231f20" stroke="#231f20" stroke-width="0.18">Cont</text>
<text x="271.40" y="138.40" font-size="6.9" text-anchor="start" fill="#231f20" stroke="#231f20" stroke-width="0.18">cKD</text>
<path d="M323,105.3 L335,105.3 L335,91" fill="none" stroke="#333" stroke-width="0.9"/>
<path d="M323.4,152.3 L334.5,152.3 L334.5,138.4" fill="none" stroke="#333" stroke-width="0.9"/>
<text x="341.50" y="144.50" font-size="6.5" text-anchor="middle" fill="#231f20" stroke="#231f20" stroke-width="0.18" transform="rotate(-90 341.5 144.5)">50 pA</text>
<text x="328.90" y="159.80" font-size="6.5" text-anchor="middle" fill="#231f20" stroke="#231f20" stroke-width="0.18">20 ms</text>
<text x="416.00" y="42.00" font-size="7.85" text-anchor="middle" fill="#231f20" stroke="#231f20" stroke-width="0.18">NASPM Sensitivity (%)</text>
<line x1="373.30" y1="122.70" x2="459.00" y2="122.70" stroke="#9a9a9a" stroke-width="1.3"/>
<rect x="380.10" y="94.77" width="13.30" height="27.93" fill="#d9d9d9"/>
<rect x="399.80" y="96.67" width="13.30" height="26.03" fill="#f9d6d7"/>
<rect x="419.20" y="105.22" width="13.30" height="17.48" fill="#7a7a7a"/>
<rect x="438.90" y="116.05" width="13.30" height="6.65" fill="#e6242a"/>
<line x1="373.30" y1="122.70" x2="459.00" y2="122.70" stroke="#9a9a9a" stroke-width="1.3"/>
<line x1="373.30" y1="65.70" x2="373.30" y2="151.20" stroke="#231f20" stroke-width="0.9"/>
<line x1="371.10" y1="65.70" x2="373.30" y2="65.70" stroke="#231f20" stroke-width="0.9"/>
<text x="370.70" y="68.04" font-size="6.5" text-anchor="end" fill="#231f20" stroke="#231f20" stroke-width="0.18">30</text>
<line x1="371.10" y1="94.20" x2="373.30" y2="94.20" stroke="#231f20" stroke-width="0.9"/>
<text x="370.70" y="96.54" font-size="6.5" text-anchor="end" fill="#231f20" stroke="#231f20" stroke-width="0.18">15</text>
<line x1="371.10" y1="122.70" x2="373.30" y2="122.70" stroke="#231f20" stroke-width="0.9"/>
<text x="370.70" y="125.04" font-size="6.5" text-anchor="end" fill="#231f20" stroke="#231f20" stroke-width="0.18">0</text>
<line x1="371.10" y1="151.20" x2="373.30" y2="151.20" stroke="#231f20" stroke-width="0.9"/>
<text x="370.70" y="153.54" font-size="6.5" text-anchor="end" fill="#231f20" stroke="#231f20" stroke-width="0.18">-15</text>
<line x1="373.30" y1="151.20" x2="459.00" y2="151.20" stroke="#231f20" stroke-width="0.9"/>
<circle cx="386.50" cy="71.30" r="1.35" fill="none" stroke="#231f20" stroke-width="0.75"/>
<circle cx="386.50" cy="80.60" r="1.35" fill="none" stroke="#231f20" stroke-width="0.75"/>
<circle cx="386.50" cy="83.10" r="1.35" fill="none" stroke="#231f20" stroke-width="0.75"/>
<circle cx="392.00" cy="86.50" r="1.35" fill="none" stroke="#231f20" stroke-width="0.75"/>
<circle cx="386.50" cy="89.00" r="1.35" fill="none" stroke="#231f20" stroke-width="0.75"/>
<circle cx="381.10" cy="90.40" r="1.35" fill="none" stroke="#231f20" stroke-width="0.75"/>
<circle cx="392.00" cy="92.40" r="1.35" fill="none" stroke="#231f20" stroke-width="0.75"/>
<circle cx="381.10" cy="94.90" r="1.35" fill="none" stroke="#231f20" stroke-width="0.75"/>
<circle cx="386.50" cy="94.90" r="1.35" fill="none" stroke="#231f20" stroke-width="0.75"/>
<circle cx="392.00" cy="94.90" r="1.35" fill="none" stroke="#231f20" stroke-width="0.75"/>
<circle cx="381.10" cy="98.30" r="1.35" fill="none" stroke="#231f20" stroke-width="0.75"/>
<circle cx="386.50" cy="98.30" r="1.35" fill="none" stroke="#231f20" stroke-width="0.75"/>
<circle cx="392.00" cy="98.30" r="1.35" fill="none" stroke="#231f20" stroke-width="0.75"/>
<circle cx="381.10" cy="101.00" r="1.35" fill="none" stroke="#231f20" stroke-width="0.75"/>
<circle cx="386.50" cy="101.30" r="1.35" fill="none" stroke="#231f20" stroke-width="0.75"/>
<circle cx="392.00" cy="101.00" r="1.35" fill="none" stroke="#231f20" stroke-width="0.75"/>
<circle cx="386.50" cy="116.00" r="1.35" fill="none" stroke="#231f20" stroke-width="0.75"/>
<circle cx="386.50" cy="121.00" r="1.35" fill="none" stroke="#231f20" stroke-width="0.75"/>
<circle cx="406.30" cy="68.40" r="1.35" fill="none" stroke="#231f20" stroke-width="0.75"/>
<circle cx="406.30" cy="74.70" r="1.35" fill="none" stroke="#231f20" stroke-width="0.75"/>
<circle cx="406.30" cy="83.60" r="1.35" fill="none" stroke="#231f20" stroke-width="0.75"/>
<circle cx="406.30" cy="87.00" r="1.35" fill="none" stroke="#231f20" stroke-width="0.75"/>
<circle cx="406.30" cy="90.70" r="1.35" fill="none" stroke="#231f20" stroke-width="0.75"/>
<circle cx="400.50" cy="97.10" r="1.35" fill="none" stroke="#231f20" stroke-width="0.75"/>
<circle cx="403.80" cy="97.10" r="1.35" fill="none" stroke="#231f20" stroke-width="0.75"/>
<circle cx="408.00" cy="97.10" r="1.35" fill="none" stroke="#231f20" stroke-width="0.75"/>
<circle cx="411.40" cy="97.40" r="1.35" fill="none" stroke="#231f20" stroke-width="0.75"/>
<circle cx="404.00" cy="100.00" r="1.35" fill="none" stroke="#231f20" stroke-width="0.75"/>
<circle cx="407.40" cy="100.00" r="1.35" fill="none" stroke="#231f20" stroke-width="0.75"/>
<circle cx="404.80" cy="102.50" r="1.35" fill="none" stroke="#231f20" stroke-width="0.75"/>
<circle cx="408.20" cy="102.50" r="1.35" fill="none" stroke="#231f20" stroke-width="0.75"/>
<circle cx="406.30" cy="112.30" r="1.35" fill="none" stroke="#231f20" stroke-width="0.75"/>
<circle cx="406.30" cy="118.00" r="1.35" fill="none" stroke="#231f20" stroke-width="0.75"/>
<circle cx="426.00" cy="76.30" r="1.35" fill="none" stroke="#231f20" stroke-width="0.75"/>
<circle cx="426.00" cy="81.40" r="1.35" fill="none" stroke="#231f20" stroke-width="0.75"/>
<circle cx="423.30" cy="88.20" r="1.35" fill="none" stroke="#231f20" stroke-width="0.75"/>
<circle cx="428.70" cy="88.20" r="1.35" fill="none" stroke="#231f20" stroke-width="0.75"/>
<circle cx="426.00" cy="95.40" r="1.35" fill="none" stroke="#231f20" stroke-width="0.75"/>
<circle cx="431.40" cy="94.00" r="1.35" fill="none" stroke="#231f20" stroke-width="0.75"/>
<circle cx="420.70" cy="110.70" r="1.35" fill="none" stroke="#231f20" stroke-width="0.75"/>
<circle cx="426.00" cy="110.70" r="1.35" fill="none" stroke="#231f20" stroke-width="0.75"/>
<circle cx="431.40" cy="110.70" r="1.35" fill="none" stroke="#231f20" stroke-width="0.75"/>
<circle cx="426.00" cy="108.40" r="1.35" fill="none" stroke="#231f20" stroke-width="0.75"/>
<circle cx="426.00" cy="115.20" r="1.35" fill="none" stroke="#231f20" stroke-width="0.75"/>
<circle cx="426.00" cy="120.20" r="1.35" fill="none" stroke="#231f20" stroke-width="0.75"/>
<circle cx="420.70" cy="127.80" r="1.35" fill="none" stroke="#231f20" stroke-width="0.75"/>
<circle cx="426.00" cy="125.30" r="1.35" fill="none" stroke="#231f20" stroke-width="0.75"/>
<circle cx="431.40" cy="125.30" r="1.35" fill="none" stroke="#231f20" stroke-width="0.75"/>
<circle cx="445.70" cy="90.40" r="1.35" fill="none" stroke="#231f20" stroke-width="0.75"/>
<circle cx="445.70" cy="99.10" r="1.35" fill="none" stroke="#231f20" stroke-width="0.75"/>
<circle cx="440.50" cy="103.40" r="1.35" fill="none" stroke="#231f20" stroke-width="0.75"/>
<circle cx="445.70" cy="104.20" r="1.35" fill="none" stroke="#231f20" stroke-width="0.75"/>
<circle cx="445.70" cy="106.70" r="1.35" fill="none" stroke="#231f20" stroke-width="0.75"/>
<circle cx="440.50" cy="111.00" r="1.35" fill="none" stroke="#231f20" stroke-width="0.75"/>
<circle cx="445.70" cy="113.50" r="1.35" fill="none" stroke="#231f20" stroke-width="0.75"/>
<circle cx="445.70" cy="116.50" r="1.35" fill="none" stroke="#231f20" stroke-width="0.75"/>
<circle cx="445.70" cy="125.80" r="1.35" fill="none" stroke="#231f20" stroke-width="0.75"/>
<circle cx="445.70" cy="128.70" r="1.35" fill="none" stroke="#231f20" stroke-width="0.75"/>
<circle cx="445.70" cy="132.90" r="1.35" fill="none" stroke="#231f20" stroke-width="0.75"/>
<circle cx="445.70" cy="136.30" r="1.35" fill="none" stroke="#231f20" stroke-width="0.75"/>
<circle cx="445.70" cy="139.60" r="1.35" fill="none" stroke="#231f20" stroke-width="0.75"/>
<circle cx="445.70" cy="142.70" r="1.35" fill="none" stroke="#231f20" stroke-width="0.75"/>
<line x1="386.75" y1="90.57" x2="386.75" y2="98.97" stroke="#231f20" stroke-width="0.9"/>
<line x1="383.55" y1="90.57" x2="389.95" y2="90.57" stroke="#231f20" stroke-width="0.9"/>
<line x1="383.55" y1="98.97" x2="389.95" y2="98.97" stroke="#231f20" stroke-width="0.9"/>
<line x1="406.45" y1="94.67" x2="406.45" y2="98.67" stroke="#231f20" stroke-width="0.9"/>
<line x1="403.25" y1="94.67" x2="409.65" y2="94.67" stroke="#231f20" stroke-width="0.9"/>
<line x1="403.25" y1="98.67" x2="409.65" y2="98.67" stroke="#231f20" stroke-width="0.9"/>
<line x1="425.85" y1="101.22" x2="425.85" y2="109.22" stroke="#231f20" stroke-width="0.9"/>
<line x1="422.65" y1="101.22" x2="429.05" y2="101.22" stroke="#231f20" stroke-width="0.9"/>
<line x1="422.65" y1="109.22" x2="429.05" y2="109.22" stroke="#231f20" stroke-width="0.9"/>
<line x1="445.55" y1="111.05" x2="445.55" y2="120.55" stroke="#231f20" stroke-width="0.9"/>
<line x1="442.35" y1="111.05" x2="448.75" y2="111.05" stroke="#231f20" stroke-width="0.9"/>
<line x1="442.35" y1="120.55" x2="448.75" y2="120.55" stroke="#231f20" stroke-width="0.9"/>
<line x1="386.10" y1="55.20" x2="445.60" y2="55.20" stroke="#333" stroke-width="1.2"/>
<circle cx="414.30" cy="51.10" r="0.8" fill="#222" stroke="none" stroke-width="0"/>
<circle cx="417.70" cy="51.10" r="0.8" fill="#222" stroke="none" stroke-width="0"/>
<line x1="406.00" y1="63.60" x2="445.60" y2="63.60" stroke="#333" stroke-width="1.2"/>
<circle cx="424.10" cy="59.50" r="0.8" fill="#222" stroke="none" stroke-width="0"/>
<circle cx="427.50" cy="59.50" r="0.8" fill="#222" stroke="none" stroke-width="0"/>
<text x="387.40" y="159.80" font-size="7.6" text-anchor="middle" fill="#231f20" stroke="#231f20" stroke-width="0.18">Cont</text>
<text x="407.90" y="159.80" font-size="7.6" text-anchor="middle" fill="#231f20" stroke="#231f20" stroke-width="0.18">cKD</text>
<text x="426.90" y="159.80" font-size="7.6" text-anchor="middle" fill="#231f20" stroke="#231f20" stroke-width="0.18">Cont</text>
<text x="446.80" y="159.80" font-size="7.6" text-anchor="middle" fill="#231f20" stroke="#231f20" stroke-width="0.18">cKD</text>
<line x1="379.40" y1="165.30" x2="414.50" y2="165.30" stroke="#999" stroke-width="1.2"/>
<text x="397.40" y="174.40" font-size="7.35" text-anchor="middle" fill="#231f20" stroke="#231f20" stroke-width="0.18">+saline</text>
<line x1="418.30" y1="165.30" x2="453.00" y2="165.30" stroke="#999" stroke-width="1.2"/>
<text x="435.80" y="174.40" font-size="7.35" text-anchor="middle" fill="#231f20" stroke="#231f20" stroke-width="0.18">+cocaine</text>
<text x="479.30" y="8.00" font-size="10.6" text-anchor="start" fill="#231f20" stroke="#231f20" stroke-width="0.18">c</text>
<text x="525.80" y="50.40" font-size="8.9" text-anchor="middle" fill="#231f20" stroke="#231f20" stroke-width="0.18">Cont</text>
<text x="526.00" y="107.80" font-size="8.9" text-anchor="middle" fill="#231f20" stroke="#231f20" stroke-width="0.18">cKD</text>
<rect x="487.10" y="53.20" width="78.40" height="42.60" fill="#050505"/>
<g clip-path="url(#ci1)">
<g filter="url(#b0_6)">
<path d="M485.00,68.70 C485.83,67.15 488.17,68.75 490.00,68.90 C491.83,69.05 493.67,69.48 496.00,69.60 C498.33,69.72 501.67,69.57 504.00,69.60 C506.33,69.63 508.03,69.87 510.00,69.80 C511.97,69.73 514.13,69.47 515.80,69.20 C517.47,68.93 518.63,68.53 520.00,68.20 C521.37,67.87 522.75,67.42 524.00,67.20 C525.25,66.98 526.33,67.05 527.50,66.90 C528.67,66.75 529.62,66.53 531.00,66.30 C532.38,66.07 534.30,65.47 535.80,65.50 C537.30,65.53 538.63,66.17 540.00,66.50 C541.37,66.83 542.73,67.13 544.00,67.50 C545.27,67.87 546.27,68.45 547.60,68.70 C548.93,68.95 550.50,68.85 552.00,69.00 C553.50,69.15 555.08,69.20 556.60,69.60 C558.12,70.00 559.87,70.80 561.10,71.40 C562.33,72.00 563.02,72.67 564.00,73.20 C564.98,73.73 566.50,73.02 567.00,74.60 C567.50,76.18 567.67,81.67 567.00,82.70 C566.33,83.73 563.98,81.40 563.00,80.80 C562.02,80.20 562.17,79.53 561.10,79.10 C560.03,78.67 558.12,78.58 556.60,78.20 C555.08,77.82 553.50,77.17 552.00,76.80 C550.50,76.43 549.27,76.17 547.60,76.00 C545.93,75.83 543.97,75.88 542.00,75.80 C540.03,75.72 537.63,75.60 535.80,75.50 C533.97,75.40 532.38,75.28 531.00,75.20 C529.62,75.12 529.00,74.98 527.50,75.00 C526.00,75.02 523.95,75.22 522.00,75.30 C520.05,75.38 517.80,75.38 515.80,75.50 C513.80,75.62 511.97,75.85 510.00,76.00 C508.03,76.15 506.00,76.20 504.00,76.40 C502.00,76.60 499.67,76.83 498.00,77.20 C496.33,77.57 495.33,78.32 494.00,78.60 C492.67,78.88 491.50,78.97 490.00,78.90 C488.50,78.83 485.83,79.90 485.00,78.20 C484.17,76.50 484.17,70.25 485.00,68.70 Z" fill="#62c94e"/>
<ellipse cx="519.40" cy="56.60" rx="1.8" ry="1.8" fill="#62c94e" transform="rotate(0 519.40 56.60)"/>
<ellipse cx="511.70" cy="63.70" rx="1.8" ry="1.2" fill="#62c94e" transform="rotate(-20 511.70 63.70)"/>
<ellipse cx="529.10" cy="62.80" rx="1.3" ry="2.2" fill="#62c94e" transform="rotate(35 529.10 62.80)"/>
<ellipse cx="536.70" cy="61.00" rx="1.5" ry="1.6" fill="#62c94e" transform="rotate(0 536.70 61.00)"/>
<ellipse cx="542.20" cy="58.80" rx="1.4" ry="1.3" fill="#62c94e" transform="rotate(0 542.20 58.80)"/>
<ellipse cx="545.80" cy="59.70" rx="1.1" ry="1.2" fill="#62c94e" transform="rotate(0 545.80 59.70)"/>
<ellipse cx="556.20" cy="62.40" rx="1.8" ry="1.4" fill="#62c94e" transform="rotate(0 556.20 62.40)"/>
<ellipse cx="556.60" cy="66.50" rx="1.6" ry="1.3" fill="#62c94e" transform="rotate(0 556.60 66.50)"/>
<ellipse cx="515.80" cy="83.20" rx="1.3" ry="2.0" fill="#62c94e" transform="rotate(0 515.80 83.20)"/>
<ellipse cx="525.70" cy="82.30" rx="1.0" ry="1.5" fill="#62c94e" transform="rotate(0 525.70 82.30)"/>
<ellipse cx="533.10" cy="79.10" rx="1.5" ry="1.5" fill="#62c94e" transform="rotate(0 533.10 79.10)"/>
<ellipse cx="538.50" cy="77.70" rx="1.2" ry="1.2" fill="#62c94e" transform="rotate(0 538.50 77.70)"/>
<ellipse cx="551.60" cy="77.60" rx="1.0" ry="1.0" fill="#62c94e" transform="rotate(0 551.60 77.60)"/>
<ellipse cx="558.00" cy="83.20" rx="1.7" ry="2.4" fill="#62c94e" transform="rotate(15 558.00 83.20)"/>
<ellipse cx="526.00" cy="82.30" rx="0.9" ry="1.2" fill="#62c94e" transform="rotate(0 526.00 82.30)"/>
<line x1="519.40" y1="58.00" x2="517.80" y2="68.60" stroke="#62c94e" stroke-width="0.9"/>
<line x1="546.00" y1="61.00" x2="545.20" y2="67.20" stroke="#62c94e" stroke-width="1.0"/>
<line x1="507.70" y1="65.50" x2="508.00" y2="69.80" stroke="#62c94e" stroke-width="0.9"/>
<line x1="515.60" y1="76.00" x2="515.70" y2="81.50" stroke="#62c94e" stroke-width="1.1"/>
<line x1="524.80" y1="75.30" x2="525.40" y2="81.00" stroke="#62c94e" stroke-width="1.0"/>
<line x1="558.00" y1="72.00" x2="558.50" y2="67.00" stroke="#62c94e" stroke-width="1.2"/>
<line x1="531.00" y1="64.00" x2="533.00" y2="66.00" stroke="#62c94e" stroke-width="1.3"/>
<line x1="536.60" y1="62.00" x2="536.20" y2="66.00" stroke="#62c94e" stroke-width="1.2"/>
<line x1="556.60" y1="78.50" x2="557.60" y2="81.00" stroke="#62c94e" stroke-width="1.3"/>
<line x1="542.20" y1="60.00" x2="542.00" y2="66.50" stroke="#62c94e" stroke-width="1.0"/>
<line x1="529.10" y1="63.00" x2="530.50" y2="66.50" stroke="#62c94e" stroke-width="1.3"/>
<line x1="511.70" y1="64.50" x2="513.00" y2="69.50" stroke="#62c94e" stroke-width="1.1"/>
<line x1="533.10" y1="77.00" x2="533.10" y2="75.00" stroke="#62c94e" stroke-width="1.4"/>
<line x1="538.50" y1="76.00" x2="538.50" y2="75.00" stroke="#62c94e" stroke-width="1.2"/>
<ellipse cx="494.00" cy="68.40" rx="1.6" ry="1.0" fill="#62c94e" transform="rotate(0 494.00 68.40)"/>
<ellipse cx="500.00" cy="69.20" rx="1.3" ry="0.9" fill="#62c94e" transform="rotate(0 500.00 69.20)"/>
<ellipse cx="523.00" cy="67.20" rx="1.5" ry="1.0" fill="#62c94e" transform="rotate(0 523.00 67.20)"/>
<ellipse cx="533.50" cy="65.20" rx="1.8" ry="1.1" fill="#62c94e" transform="rotate(0 533.50 65.20)"/>
<ellipse cx="538.50" cy="65.60" rx="1.4" ry="1.0" fill="#62c94e" transform="rotate(0 538.50 65.60)"/>
<ellipse cx="550.00" cy="68.20" rx="1.6" ry="1.0" fill="#62c94e" transform="rotate(0 550.00 68.20)"/>
<ellipse cx="503.00" cy="76.80" rx="1.5" ry="1.0" fill="#62c94e" transform="rotate(0 503.00 76.80)"/>
<ellipse cx="520.00" cy="75.80" rx="1.4" ry="0.9" fill="#62c94e" transform="rotate(0 520.00 75.80)"/>
<ellipse cx="545.00" cy="76.40" rx="1.5" ry="1.0" fill="#62c94e" transform="rotate(0 545.00 76.40)"/>
<ellipse cx="491.00" cy="79.20" rx="2.0" ry="1.2" fill="#62c94e" transform="rotate(0 491.00 79.20)"/>
</g>
</g>
<circle cx="529.50" cy="83.50" r="0.7" fill="#b01a14" stroke="none" stroke-width="0"/>
<circle cx="531.50" cy="82.20" r="0.6" fill="#b01a14" stroke="none" stroke-width="0"/>
<circle cx="534.00" cy="81.00" r="0.5" fill="#b01a14" stroke="none" stroke-width="0"/>
<circle cx="506.00" cy="58.00" r="0.4" fill="#b01a14" stroke="none" stroke-width="0"/>
<circle cx="540.00" cy="90.00" r="0.4" fill="#b01a14" stroke="none" stroke-width="0"/>
<text x="488.70" y="94.10" font-size="8.7" text-anchor="start" fill="#231f20" stroke="#231f20" stroke-width="0.18"><tspan fill="#62a83c" stroke="#62a83c">eYFP</tspan> <tspan fill="#d42a20" stroke="#d42a20">GluA2</tspan></text>
<rect x="487.70" y="111.10" width="78.80" height="42.20" fill="#050505"/>
<g clip-path="url(#ci2)">
<g filter="url(#b0_6)">
<path d="M485.00,127.40 C485.83,125.78 488.33,127.47 490.00,127.60 C491.67,127.73 493.30,128.00 495.00,128.20 C496.70,128.40 498.37,128.70 500.20,128.80 C502.03,128.90 504.37,128.83 506.00,128.80 C507.63,128.77 508.62,128.68 510.00,128.60 C511.38,128.52 512.63,128.47 514.30,128.30 C515.97,128.13 518.12,127.83 520.00,127.60 C521.88,127.37 523.93,127.10 525.60,126.90 C527.27,126.70 528.22,126.63 530.00,126.40 C531.78,126.17 534.30,125.80 536.30,125.50 C538.30,125.20 539.95,124.83 542.00,124.60 C544.05,124.37 546.77,124.03 548.60,124.10 C550.43,124.17 551.43,124.68 553.00,125.00 C554.57,125.32 556.50,125.75 558.00,126.00 C559.50,126.25 560.33,126.35 562.00,126.50 C563.67,126.65 567.00,125.42 568.00,126.90 C569.00,128.38 569.00,134.07 568.00,135.40 C567.00,136.73 563.67,135.05 562.00,134.90 C560.33,134.75 559.50,134.55 558.00,134.50 C556.50,134.45 554.57,134.60 553.00,134.60 C551.43,134.60 550.43,134.70 548.60,134.50 C546.77,134.30 544.05,133.72 542.00,133.40 C539.95,133.08 538.30,132.60 536.30,132.60 C534.30,132.60 531.78,132.93 530.00,133.40 C528.22,133.87 527.27,134.93 525.60,135.40 C523.93,135.87 521.88,136.03 520.00,136.20 C518.12,136.37 516.30,136.27 514.30,136.40 C512.30,136.53 510.35,136.77 508.00,137.00 C505.65,137.23 502.53,137.70 500.20,137.80 C497.87,137.90 495.70,137.40 494.00,137.60 C492.30,137.80 491.50,139.05 490.00,139.00 C488.50,138.95 485.83,139.23 485.00,137.30 C484.17,135.37 484.17,129.02 485.00,127.40 Z" fill="#62c94e"/>
<ellipse cx="493.50" cy="121.30" rx="1.6" ry="3.4" fill="#62c94e" transform="rotate(-5 493.50 121.30)"/>
<ellipse cx="504.40" cy="125.50" rx="2.3" ry="2.1" fill="#62c94e" transform="rotate(0 504.40 125.50)"/>
<ellipse cx="511.00" cy="124.10" rx="1.3" ry="1.5" fill="#62c94e" transform="rotate(0 511.00 124.10)"/>
<ellipse cx="521.40" cy="124.10" rx="1.8" ry="1.6" fill="#62c94e" transform="rotate(0 521.40 124.10)"/>
<ellipse cx="531.60" cy="118.80" rx="1.6" ry="3.4" fill="#62c94e" transform="rotate(0 531.60 118.80)"/>
<ellipse cx="538.70" cy="121.20" rx="2.4" ry="2.3" fill="#62c94e" transform="rotate(0 538.70 121.20)"/>
<ellipse cx="550.50" cy="117.60" rx="0.9" ry="1.0" fill="#62c94e" transform="rotate(0 550.50 117.60)"/>
<ellipse cx="553.30" cy="122.40" rx="1.9" ry="1.7" fill="#62c94e" transform="rotate(0 553.30 122.40)"/>
<ellipse cx="558.00" cy="121.70" rx="1.4" ry="1.6" fill="#62c94e" transform="rotate(0 558.00 121.70)"/>
<ellipse cx="492.10" cy="143.60" rx="1.8" ry="2.6" fill="#62c94e" transform="rotate(0 492.10 143.60)"/>
<ellipse cx="508.20" cy="143.60" rx="2.2" ry="3.0" fill="#62c94e" transform="rotate(0 508.20 143.60)"/>
<ellipse cx="522.30" cy="136.60" rx="2.6" ry="2.2" fill="#62c94e" transform="rotate(0 522.30 136.60)"/>
<ellipse cx="544.30" cy="139.50" rx="1.0" ry="1.6" fill="#62c94e" transform="rotate(30 544.30 139.50)"/>
<line x1="504.40" y1="126.50" x2="504.40" y2="129.00" stroke="#62c94e" stroke-width="2.6"/>
<line x1="521.40" y1="125.00" x2="521.40" y2="128.50" stroke="#62c94e" stroke-width="2.0"/>
<line x1="538.70" y1="122.50" x2="538.70" y2="125.50" stroke="#62c94e" stroke-width="2.4"/>
<line x1="553.30" y1="123.50" x2="553.30" y2="125.50" stroke="#62c94e" stroke-width="2.0"/>
<line x1="558.00" y1="122.50" x2="558.00" y2="126.50" stroke="#62c94e" stroke-width="1.6"/>
<line x1="494.00" y1="124.00" x2="495.00" y2="128.00" stroke="#62c94e" stroke-width="1.4"/>
<line x1="531.60" y1="122.00" x2="532.00" y2="126.00" stroke="#62c94e" stroke-width="1.5"/>
<line x1="550.50" y1="118.50" x2="550.80" y2="124.50" stroke="#62c94e" stroke-width="0.8"/>
<line x1="490.50" y1="137.00" x2="491.80" y2="141.00" stroke="#62c94e" stroke-width="1.5"/>
<line x1="508.00" y1="137.00" x2="508.20" y2="141.00" stroke="#62c94e" stroke-width="1.4"/>
<line x1="511.00" y1="125.00" x2="511.00" y2="128.50" stroke="#62c94e" stroke-width="0.9"/>
</g>
</g>
<circle cx="538.70" cy="121.20" r="0.9" fill="#1a4a14" stroke="none" stroke-width="0"/>
<circle cx="527.80" cy="138.70" r="1.5" fill="#e02018" stroke="none" stroke-width="0"/>
<circle cx="529.50" cy="137.50" r="0.9" fill="#d02018" stroke="none" stroke-width="0"/>
<circle cx="540.60" cy="118.60" r="1.1" fill="#e04018" stroke="none" stroke-width="0"/>
<circle cx="492.10" cy="115.40" r="0.8" fill="#c81a14" stroke="none" stroke-width="0"/>
<circle cx="489.30" cy="121.70" r="0.5" fill="#b01a14" stroke="none" stroke-width="0"/>
<circle cx="527.30" cy="139.00" r="1.1" fill="#e02018" stroke="none" stroke-width="0"/>
<circle cx="508.60" cy="113.20" r="0.4" fill="#a01a14" stroke="none" stroke-width="0"/>
<circle cx="501.00" cy="148.00" r="0.4" fill="#a01a14" stroke="none" stroke-width="0"/>
<circle cx="518.00" cy="146.50" r="0.5" fill="#a01a14" stroke="none" stroke-width="0"/>
<circle cx="536.00" cy="145.00" r="0.5" fill="#a01a14" stroke="none" stroke-width="0"/>
<circle cx="489.00" cy="147.00" r="0.5" fill="#a01a14" stroke="none" stroke-width="0"/>
<circle cx="516.20" cy="128.60" r="0.9" fill="#d8e02a" stroke="none" stroke-width="0"/>
<circle cx="520.90" cy="138.20" r="0.8" fill="#d8e02a" stroke="none" stroke-width="0"/>
<circle cx="557.50" cy="134.30" r="1.0" fill="#d8e02a" stroke="none" stroke-width="0"/>
<circle cx="540.60" cy="117.80" r="0.7" fill="#e8d020" stroke="none" stroke-width="0"/>
<line x1="534.40" y1="150.30" x2="562.90" y2="150.30" stroke="#f4f4f4" stroke-width="1.3"/>
<text x="640.90" y="34.50" font-size="8.6" text-anchor="middle" fill="#231f20" stroke="#231f20" stroke-width="0.18">GluA2</text>
<line x1="596.70" y1="63.90" x2="596.70" y2="151.40" stroke="#231f20" stroke-width="0.9"/>
<line x1="594.50" y1="63.90" x2="596.70" y2="63.90" stroke="#231f20" stroke-width="0.9"/>
<text x="594.10" y="66.35" font-size="6.8" text-anchor="end" fill="#231f20" stroke="#231f20" stroke-width="0.18">0.3</text>
<line x1="594.50" y1="93.07" x2="596.70" y2="93.07" stroke="#231f20" stroke-width="0.9"/>
<text x="594.10" y="95.51" font-size="6.8" text-anchor="end" fill="#231f20" stroke="#231f20" stroke-width="0.18">0.2</text>
<line x1="594.50" y1="122.23" x2="596.70" y2="122.23" stroke="#231f20" stroke-width="0.9"/>
<text x="594.10" y="124.68" font-size="6.8" text-anchor="end" fill="#231f20" stroke="#231f20" stroke-width="0.18">0.1</text>
<line x1="594.50" y1="151.40" x2="596.70" y2="151.40" stroke="#231f20" stroke-width="0.9"/>
<text x="594.10" y="153.85" font-size="6.8" text-anchor="end" fill="#231f20" stroke="#231f20" stroke-width="0.18">0.0</text>
<rect x="603.90" y="138.86" width="13.50" height="12.54" fill="#d9d9d9"/>
<rect x="624.10" y="134.48" width="13.50" height="16.92" fill="#f9d6d7"/>
<rect x="644.20" y="133.90" width="13.50" height="17.50" fill="#7a7a7a"/>
<rect x="664.40" y="107.07" width="13.50" height="44.33" fill="#e6242a"/>
<line x1="596.70" y1="151.40" x2="684.30" y2="151.40" stroke="#231f20" stroke-width="0.9"/>
<circle cx="610.70" cy="122.00" r="1.2" fill="none" stroke="#231f20" stroke-width="0.8"/>
<circle cx="610.70" cy="127.70" r="1.2" fill="none" stroke="#231f20" stroke-width="0.8"/>
<circle cx="608.30" cy="136.30" r="1.2" fill="none" stroke="#231f20" stroke-width="0.8"/>
<circle cx="610.70" cy="136.30" r="1.2" fill="none" stroke="#231f20" stroke-width="0.8"/>
<circle cx="613.10" cy="136.30" r="1.2" fill="none" stroke="#231f20" stroke-width="0.8"/>
<circle cx="610.70" cy="140.20" r="1.2" fill="none" stroke="#231f20" stroke-width="0.8"/>
<circle cx="608.30" cy="142.00" r="1.2" fill="none" stroke="#231f20" stroke-width="0.8"/>
<circle cx="610.70" cy="142.00" r="1.2" fill="none" stroke="#231f20" stroke-width="0.8"/>
<circle cx="613.10" cy="142.00" r="1.2" fill="none" stroke="#231f20" stroke-width="0.8"/>
<circle cx="609.50" cy="145.00" r="1.2" fill="none" stroke="#231f20" stroke-width="0.8"/>
<circle cx="611.90" cy="145.00" r="1.2" fill="none" stroke="#231f20" stroke-width="0.8"/>
<circle cx="610.70" cy="151.20" r="1.2" fill="none" stroke="#231f20" stroke-width="0.8"/>
<circle cx="630.80" cy="99.10" r="1.2" fill="none" stroke="#231f20" stroke-width="0.8"/>
<circle cx="630.80" cy="107.70" r="1.2" fill="none" stroke="#231f20" stroke-width="0.8"/>
<circle cx="630.80" cy="113.40" r="1.2" fill="none" stroke="#231f20" stroke-width="0.8"/>
<circle cx="630.80" cy="116.30" r="1.2" fill="none" stroke="#231f20" stroke-width="0.8"/>
<circle cx="629.60" cy="122.00" r="1.2" fill="none" stroke="#231f20" stroke-width="0.8"/>
<circle cx="632.00" cy="122.00" r="1.2" fill="none" stroke="#231f20" stroke-width="0.8"/>
<circle cx="628.40" cy="127.70" r="1.2" fill="none" stroke="#231f20" stroke-width="0.8"/>
<circle cx="630.80" cy="127.70" r="1.2" fill="none" stroke="#231f20" stroke-width="0.8"/>
<circle cx="633.20" cy="127.70" r="1.2" fill="none" stroke="#231f20" stroke-width="0.8"/>
<circle cx="629.60" cy="130.60" r="1.2" fill="none" stroke="#231f20" stroke-width="0.8"/>
<circle cx="632.00" cy="130.60" r="1.2" fill="none" stroke="#231f20" stroke-width="0.8"/>
<circle cx="630.80" cy="132.50" r="1.2" fill="none" stroke="#231f20" stroke-width="0.8"/>
<circle cx="629.60" cy="137.30" r="1.2" fill="none" stroke="#231f20" stroke-width="0.8"/>
<circle cx="632.00" cy="137.30" r="1.2" fill="none" stroke="#231f20" stroke-width="0.8"/>
<circle cx="627.20" cy="142.00" r="1.2" fill="none" stroke="#231f20" stroke-width="0.8"/>
<circle cx="629.60" cy="142.00" r="1.2" fill="none" stroke="#231f20" stroke-width="0.8"/>
<circle cx="632.00" cy="142.00" r="1.2" fill="none" stroke="#231f20" stroke-width="0.8"/>
<circle cx="634.40" cy="142.00" r="1.2" fill="none" stroke="#231f20" stroke-width="0.8"/>
<circle cx="628.40" cy="144.00" r="1.2" fill="none" stroke="#231f20" stroke-width="0.8"/>
<circle cx="630.80" cy="144.00" r="1.2" fill="none" stroke="#231f20" stroke-width="0.8"/>
<circle cx="633.20" cy="144.00" r="1.2" fill="none" stroke="#231f20" stroke-width="0.8"/>
<circle cx="629.60" cy="146.80" r="1.2" fill="none" stroke="#231f20" stroke-width="0.8"/>
<circle cx="632.00" cy="146.80" r="1.2" fill="none" stroke="#231f20" stroke-width="0.8"/>
<circle cx="626.00" cy="151.20" r="1.2" fill="none" stroke="#231f20" stroke-width="0.8"/>
<circle cx="628.40" cy="151.20" r="1.2" fill="none" stroke="#231f20" stroke-width="0.8"/>
<circle cx="630.80" cy="151.20" r="1.2" fill="none" stroke="#231f20" stroke-width="0.8"/>
<circle cx="633.20" cy="151.20" r="1.2" fill="none" stroke="#231f20" stroke-width="0.8"/>
<circle cx="635.60" cy="151.20" r="1.2" fill="none" stroke="#231f20" stroke-width="0.8"/>
<circle cx="651.00" cy="113.40" r="1.2" fill="none" stroke="#231f20" stroke-width="0.8"/>
<circle cx="648.60" cy="127.70" r="1.2" fill="none" stroke="#231f20" stroke-width="0.8"/>
<circle cx="651.00" cy="127.70" r="1.2" fill="none" stroke="#231f20" stroke-width="0.8"/>
<circle cx="653.40" cy="127.70" r="1.2" fill="none" stroke="#231f20" stroke-width="0.8"/>
<circle cx="648.60" cy="129.70" r="1.2" fill="none" stroke="#231f20" stroke-width="0.8"/>
<circle cx="651.00" cy="129.70" r="1.2" fill="none" stroke="#231f20" stroke-width="0.8"/>
<circle cx="653.40" cy="129.70" r="1.2" fill="none" stroke="#231f20" stroke-width="0.8"/>
<circle cx="649.80" cy="132.10" r="1.2" fill="none" stroke="#231f20" stroke-width="0.8"/>
<circle cx="652.20" cy="132.10" r="1.2" fill="none" stroke="#231f20" stroke-width="0.8"/>
<circle cx="647.40" cy="136.30" r="1.2" fill="none" stroke="#231f20" stroke-width="0.8"/>
<circle cx="649.80" cy="136.30" r="1.2" fill="none" stroke="#231f20" stroke-width="0.8"/>
<circle cx="652.20" cy="136.30" r="1.2" fill="none" stroke="#231f20" stroke-width="0.8"/>
<circle cx="654.60" cy="136.30" r="1.2" fill="none" stroke="#231f20" stroke-width="0.8"/>
<circle cx="648.60" cy="137.30" r="1.2" fill="none" stroke="#231f20" stroke-width="0.8"/>
<circle cx="651.00" cy="137.30" r="1.2" fill="none" stroke="#231f20" stroke-width="0.8"/>
<circle cx="653.40" cy="137.30" r="1.2" fill="none" stroke="#231f20" stroke-width="0.8"/>
<circle cx="649.80" cy="142.00" r="1.2" fill="none" stroke="#231f20" stroke-width="0.8"/>
<circle cx="652.20" cy="142.00" r="1.2" fill="none" stroke="#231f20" stroke-width="0.8"/>
<circle cx="651.00" cy="145.00" r="1.2" fill="none" stroke="#231f20" stroke-width="0.8"/>
<circle cx="671.20" cy="73.00" r="1.2" fill="none" stroke="#231f20" stroke-width="0.8"/>
<circle cx="670.00" cy="83.90" r="1.2" fill="none" stroke="#231f20" stroke-width="0.8"/>
<circle cx="672.40" cy="83.90" r="1.2" fill="none" stroke="#231f20" stroke-width="0.8"/>
<circle cx="671.20" cy="85.80" r="1.2" fill="none" stroke="#231f20" stroke-width="0.8"/>
<circle cx="671.20" cy="87.70" r="1.2" fill="none" stroke="#231f20" stroke-width="0.8"/>
<circle cx="671.20" cy="93.40" r="1.2" fill="none" stroke="#231f20" stroke-width="0.8"/>
<circle cx="667.60" cy="101.60" r="1.2" fill="none" stroke="#231f20" stroke-width="0.8"/>
<circle cx="670.00" cy="101.60" r="1.2" fill="none" stroke="#231f20" stroke-width="0.8"/>
<circle cx="672.40" cy="101.60" r="1.2" fill="none" stroke="#231f20" stroke-width="0.8"/>
<circle cx="674.80" cy="101.60" r="1.2" fill="none" stroke="#231f20" stroke-width="0.8"/>
<circle cx="670.00" cy="102.40" r="1.2" fill="none" stroke="#231f20" stroke-width="0.8"/>
<circle cx="672.40" cy="102.40" r="1.2" fill="none" stroke="#231f20" stroke-width="0.8"/>
<circle cx="667.60" cy="116.30" r="1.2" fill="none" stroke="#231f20" stroke-width="0.8"/>
<circle cx="670.00" cy="116.30" r="1.2" fill="none" stroke="#231f20" stroke-width="0.8"/>
<circle cx="672.40" cy="116.30" r="1.2" fill="none" stroke="#231f20" stroke-width="0.8"/>
<circle cx="674.80" cy="116.30" r="1.2" fill="none" stroke="#231f20" stroke-width="0.8"/>
<circle cx="670.00" cy="117.30" r="1.2" fill="none" stroke="#231f20" stroke-width="0.8"/>
<circle cx="672.40" cy="117.30" r="1.2" fill="none" stroke="#231f20" stroke-width="0.8"/>
<circle cx="667.60" cy="127.70" r="1.2" fill="none" stroke="#231f20" stroke-width="0.8"/>
<circle cx="670.00" cy="127.70" r="1.2" fill="none" stroke="#231f20" stroke-width="0.8"/>
<circle cx="672.40" cy="127.70" r="1.2" fill="none" stroke="#231f20" stroke-width="0.8"/>
<circle cx="674.80" cy="127.70" r="1.2" fill="none" stroke="#231f20" stroke-width="0.8"/>
<circle cx="671.20" cy="136.90" r="1.2" fill="none" stroke="#231f20" stroke-width="0.8"/>
<line x1="610.65" y1="136.36" x2="610.65" y2="141.36" stroke="#231f20" stroke-width="0.9"/>
<line x1="607.45" y1="136.36" x2="613.85" y2="136.36" stroke="#231f20" stroke-width="0.9"/>
<line x1="607.45" y1="141.36" x2="613.85" y2="141.36" stroke="#231f20" stroke-width="0.9"/>
<line x1="630.85" y1="131.48" x2="630.85" y2="137.48" stroke="#231f20" stroke-width="0.9"/>
<line x1="627.65" y1="131.48" x2="634.05" y2="131.48" stroke="#231f20" stroke-width="0.9"/>
<line x1="627.65" y1="137.48" x2="634.05" y2="137.48" stroke="#231f20" stroke-width="0.9"/>
<line x1="650.95" y1="131.40" x2="650.95" y2="136.40" stroke="#231f20" stroke-width="0.9"/>
<line x1="647.75" y1="131.40" x2="654.15" y2="131.40" stroke="#231f20" stroke-width="0.9"/>
<line x1="647.75" y1="136.40" x2="654.15" y2="136.40" stroke="#231f20" stroke-width="0.9"/>
<line x1="671.15" y1="102.07" x2="671.15" y2="112.07" stroke="#231f20" stroke-width="0.9"/>
<line x1="667.95" y1="102.07" x2="674.35" y2="102.07" stroke="#231f20" stroke-width="0.9"/>
<line x1="667.95" y1="112.07" x2="674.35" y2="112.07" stroke="#231f20" stroke-width="0.9"/>
<line x1="610.10" y1="51.40" x2="670.60" y2="51.40" stroke="#222" stroke-width="1.2"/>
<circle cx="636.84" cy="48.30" r="0.9" fill="#222" stroke="none" stroke-width="0"/>
<circle cx="639.90" cy="48.30" r="0.9" fill="#222" stroke="none" stroke-width="0"/>
<circle cx="642.96" cy="48.30" r="0.9" fill="#222" stroke="none" stroke-width="0"/>
<line x1="630.00" y1="60.90" x2="670.60" y2="60.90" stroke="#9a9a9a" stroke-width="1.6"/>
<circle cx="646.84" cy="56.80" r="0.9" fill="#222" stroke="none" stroke-width="0"/>
<circle cx="649.90" cy="56.80" r="0.9" fill="#222" stroke="none" stroke-width="0"/>
<circle cx="652.96" cy="56.80" r="0.9" fill="#222" stroke="none" stroke-width="0"/>
<line x1="651.20" y1="68.30" x2="670.90" y2="68.30" stroke="#8a8a8a" stroke-width="1.3"/>
<circle cx="659.25" cy="65.30" r="0.9" fill="#222" stroke="none" stroke-width="0"/>
<circle cx="662.75" cy="65.30" r="0.9" fill="#222" stroke="none" stroke-width="0"/>
<text x="611.50" y="160.40" font-size="7.6" text-anchor="middle" fill="#231f20" stroke="#231f20" stroke-width="0.18">Cont</text>
<text x="631.80" y="160.40" font-size="7.6" text-anchor="middle" fill="#231f20" stroke="#231f20" stroke-width="0.18">cKD</text>
<text x="650.50" y="160.40" font-size="7.6" text-anchor="middle" fill="#231f20" stroke="#231f20" stroke-width="0.18">Cont</text>
<text x="671.00" y="160.40" font-size="7.6" text-anchor="middle" fill="#231f20" stroke="#231f20" stroke-width="0.18">cKD</text>
<line x1="604.00" y1="165.30" x2="638.70" y2="165.30" stroke="#999" stroke-width="1.2"/>
<text x="621.90" y="173.90" font-size="7.35" text-anchor="middle" fill="#231f20" stroke="#231f20" stroke-width="0.18">+saline</text>
<line x1="642.20" y1="165.30" x2="677.20" y2="165.30" stroke="#999" stroke-width="1.2"/>
<text x="660.00" y="173.90" font-size="7.35" text-anchor="middle" fill="#231f20" stroke="#231f20" stroke-width="0.18">+cocaine</text>
<text x="579.20" y="109.50" font-size="7.3" text-anchor="middle" fill="#231f20" stroke="#231f20" stroke-width="0.18" transform="rotate(-90 579.2 109.5)">Puncta density (n/μm)</text>
<text x="0.00" y="188.90" font-size="11" text-anchor="start" fill="#231f20" stroke="#231f20" stroke-width="0.18">d</text>
<text x="111.30" y="213.20" font-size="8.65" text-anchor="middle" fill="#231f20" stroke="#231f20" stroke-width="0.18">Immuno-EM (Cont)</text>
<line x1="9.80" y1="216.70" x2="212.70" y2="216.70" stroke="#231f20" stroke-width="1.6"/>
<text x="319.00" y="213.10" font-size="8.65" text-anchor="start" fill="#231f20" stroke="#231f20" stroke-width="0.18">Immuno-EM (cKD)</text>
<line x1="219.40" y1="216.70" x2="489.80" y2="216.70" stroke="#231f20" stroke-width="1.6"/>
<g clip-path="url(#em1)">
<rect x="9.40" y="222.00" width="71.00" height="81.00" fill="#c9c9c9"/>
<g filter="url(#b3)">
<rect x="5.00" y="215.00" width="12.00" height="95.00" fill="#bdbdbd"/>
<ellipse cx="64" cy="243" rx="15" ry="16" fill="#e0e0e0"/>
<path d="M84,236 C74,258 66,280 60,306" fill="none" stroke="#8a8a8a" stroke-width="11"/>
<path d="M47,252 C49,270 48,290 44,306" fill="none" stroke="#b8b8b8" stroke-width="5"/>
<ellipse cx="20" cy="298" rx="12" ry="7" fill="#dadada"/>
</g>
<g filter="url(#b1_5)">
<path d="M79,243 C70,258 62,276 57,306" fill="none" stroke="#5c5c5c" stroke-width="4.5"/>
</g>
<g filter="url(#b0_6)">
<path d="M12,222 C16,240 14,262 16,280 C18,292 22,300 26,304" fill="none" stroke="#858585" stroke-width="1.2"/>
<path d="M19,222 C25,232 23,246 21,258" fill="none" stroke="#909090" stroke-width="1.1"/>
<path d="M28,222 C38,224 45,228 47,236" fill="none" stroke="#858585" stroke-width="1.2"/>
<path d="M45,236 C50,227 60,223 70,224 C77,226 81,230 82,233" fill="none" stroke="#6e6e6e" stroke-width="1.4"/>
<path d="M17,290 C22,298 28,302 34,303" fill="none" stroke="#8a8a8a" stroke-width="1.2"/>
<path d="M43.5,268 C43.5,284 41.5,296 38,304" fill="none" stroke="#8a8a8a" stroke-width="1.2"/>
<path d="M46,240 C47,250 47.5,262 46.5,272" fill="none" stroke="#a0a0a0" stroke-width="1.0"/>
</g>
<rect x="9.4" y="222" width="71" height="81" filter="url(#nz)" opacity="0.75" style="mix-blend-mode:multiply"/>
<path d="M32.9,237.2 L40.3,237 C41.5,250 41.7,262 41.5,271.4 C41.5,276 41.2,280 41.1,281.3 C40,285 39,287.5 37.8,289.5 C36,293 34,295.5 32.1,297 C29.5,296.5 27.5,295.5 25.5,294.5 C23,292 21.5,290 20.5,287.9 C19.3,284 19,281 19.2,278 C19.6,273 20.5,268.5 21.4,264.8 C22.6,259.5 24,255.5 25.5,251.7 C27,248 28.5,244.5 29.6,241.8 C30.5,240 31.7,238.5 32.9,237.2 Z" fill="#fbf0a0" stroke="none" stroke-width="1" opacity="0.6"/>
<g filter="url(#b1)">
<path d="M39.2,238.5 C40,248 40.2,258 39.6,270" fill="none" stroke="#47432f" stroke-width="3.6"/>
<path d="M34,250 C33,262 32,276 30,290" fill="none" stroke="#cbc396" stroke-width="5"/>
</g>
<circle cx="30.50" cy="246.50" r="0.8" fill="#222" stroke="none" stroke-width="0"/>
<line x1="56.80" y1="299.60" x2="79.00" y2="299.60" stroke="#222" stroke-width="1.6"/>
</g>
<rect x="27.1" y="236.5" width="22.3" height="35.3" fill="none" stroke="#ea3a2c" stroke-width="1.4" stroke-dasharray="2.6,1.5"/>
<g clip-path="url(#em2)">
<rect x="81.70" y="222.10" width="130.60" height="81.30" fill="#fafafa"/>
<g filter="url(#b4)">
<ellipse cx="90" cy="234" rx="10" ry="12" fill="#d2d2d2"/>
<ellipse cx="128" cy="232" rx="16" ry="6" fill="#e6e6e6"/>
<path d="M83,246 C120,243 160,244 210,247" fill="none" stroke="#c8c8c8" stroke-width="6"/>
<ellipse cx="180" cy="244" rx="22" ry="5" fill="#e6e6e6"/>
<path d="M110,286 C116,298 130,300 138,292" fill="none" stroke="#c8c8c8" stroke-width="5"/>
<ellipse cx="190" cy="292" rx="14" ry="6" fill="#d4d4d4"/>
</g>
<g filter="url(#b2)">
<path d="M83,251 C110,249 150,250 207,253 L207,266.5 C150,265.5 110,265.5 83,265.5 Z" fill="#7c7c7c" stroke="none" stroke-width="1"/>
<path d="M83,268 C120,267 160,268 214,270 L214,284 C160,283 120,285 83,284 Z" fill="#9c9c9c" stroke="none" stroke-width="1"/>
</g>
<g filter="url(#b1_2)">
<path d="M86,254 C110,253 150,253.5 203,256 L203,263 C150,262.5 110,262 86,262 Z" fill="#3a3a3a" stroke="none" stroke-width="1"/>
</g>
<g filter="url(#b0_6)">
<path d="M199,230 C204,233 209,237 212.5,243" fill="none" stroke="#555" stroke-width="1.4"/>
</g>
<rect x="81.7" y="222.1" width="130.6" height="81.3" filter="url(#nz)" opacity="0.6" style="mix-blend-mode:multiply"/>
<path d="M83,252 C110,250.5 150,251 204,253.5 L204,265 C150,264.5 110,264.5 83,264.5 Z" fill="#000" filter="url(#nzin)" opacity="0.55" style="mix-blend-mode:multiply"/>
<path d="M83,269 C120,268 160,269 214,271 L214,284 C160,283 120,285 83,284 Z" fill="#000" filter="url(#nzin)" opacity="0.3" style="mix-blend-mode:multiply"/>
<circle cx="178.80" cy="231.70" r="1.9" fill="#111" stroke="none" stroke-width="0"/>
<path d="M184.3,230.3 L193.5,226.2 L193.5,233.2 Z" fill="#4cb748"/>
<line x1="128.00" y1="297.30" x2="209.80" y2="297.30" stroke="#333" stroke-width="1.3"/>
<rect x="88.2" y="286.5" width="28.2" height="15.9" fill="#fff" stroke="#222" stroke-width="0.8"/>
<path d="M89.8,288.2 L94.6,290.8 L89.8,293.4 Z" fill="#4cb748"/>
<path d="M89.8,295.2 L94.6,297.8 L89.8,300.4 Z" fill="#c33c9c"/>
<text x="96.20" y="293.20" font-size="6.5" text-anchor="start" fill="#231f20" stroke="#231f20" stroke-width="0.18">GFP</text>
<text x="96.20" y="300.50" font-size="6.5" text-anchor="start" fill="#231f20" stroke="#231f20" stroke-width="0.18">GluA2</text>
</g>
<g clip-path="url(#em3)">
<rect x="218.00" y="222.00" width="88.00" height="82.00" fill="#d6d6d6"/>
<g filter="url(#b4)">
<ellipse cx="230" cy="238" rx="11" ry="14" fill="#aaaaaa"/>
<path d="M226,250 C233,262 237,272 235,292" fill="none" stroke="#868686" stroke-width="12"/>
<ellipse cx="228" cy="300" rx="14" ry="5" fill="#e4e4e4"/>
<ellipse cx="298" cy="290" rx="9" ry="14" fill="#e2e2e2"/>
<path d="M248,299 C262,301 276,299 286,297" fill="none" stroke="#b0b0b0" stroke-width="4"/>
</g>
<g filter="url(#b1_5)">
<path d="M222,262 C228,266 232,274 232,286" fill="none" stroke="#787878" stroke-width="3"/>
<path d="M236,250 C240,256 244,262 242,270" fill="none" stroke="#8a8a8a" stroke-width="3"/>
</g>
<rect x="218" y="222" width="88" height="82" filter="url(#nz)" opacity="0.8" style="mix-blend-mode:multiply"/>
<path d="M242,221 L299.4,221 C299,235 297.5,246 296.3,254.2 C294,261 292,265 290,268.6 C286,276 284,280 281,283.1 C277,287 275,289.5 271.9,291.2 C265,293 259,293.5 253.8,293 C249,292.5 245.5,291.5 243.8,290.3 C241.5,288.5 240.5,286.5 241.1,284.9 C243,282 247,280.5 250.2,279.5 C255,277.5 259,275 261,272.2 C263.5,268 264.5,266 263.7,263.2 C263,260 261.5,259 260.1,257.8 C257,255 253,253 251,250.5 C248.5,247 247.5,243 246.5,239.7 C245,235 243.5,231.5 243,228.8 Z" fill="#faf3c4" stroke="none" stroke-width="1" opacity="0.78"/>
<g filter="url(#b1)">
<path d="M299.5,240 C298,252 295,262 290,270 C284,280 278,288 270,292.5" fill="none" stroke="#6a6a58" stroke-width="1.6" opacity="0.55"/>
<ellipse cx="266" cy="238" rx="9" ry="6" fill="#c8c098" opacity="0.35"/>
</g>
<circle cx="287.20" cy="224.90" r="1.0" fill="#111" stroke="none" stroke-width="0"/>
<circle cx="293.60" cy="237.50" r="1.1" fill="#111" stroke="none" stroke-width="0"/>
<circle cx="299.90" cy="235.70" r="1.0" fill="#111" stroke="none" stroke-width="0"/>
<circle cx="298.10" cy="241.10" r="1.0" fill="#111" stroke="none" stroke-width="0"/>
<line x1="290.90" y1="301.50" x2="304.00" y2="301.50" stroke="#222" stroke-width="1.5"/>
</g>
<rect x="234.3" y="272.2" width="49.3" height="22.1" fill="none" stroke="#ea3a2c" stroke-width="1.4" stroke-dasharray="2.6,1.5"/>
<g clip-path="url(#em4)">
<rect x="309.20" y="222.20" width="181.10" height="81.20" fill="#f2f2f2"/>
<g filter="url(#b6)">
<ellipse cx="355" cy="236" rx="48" ry="14" fill="#d9d9d9"/>
<path d="M312,238 C322,252 334,272 342,306" fill="none" stroke="#b6b6b6" stroke-width="26"/>
<path d="M316,252 C322,262 330,280 334,300" fill="none" stroke="#a2a2a2" stroke-width="10"/>
<ellipse cx="392" cy="272" rx="40" ry="26" fill="#fbfbfb"/>
<ellipse cx="420" cy="232" rx="22" ry="9" fill="#e2e2e2"/>
<path d="M494,224 C478,244 458,270 438,308" fill="none" stroke="#b0b0b0" stroke-width="28"/>
<path d="M490,230 C476,248 462,268 448,296" fill="none" stroke="#9a9a9a" stroke-width="10"/>
<ellipse cx="489" cy="290" rx="7" ry="18" fill="#d6d6d6"/>
</g>
<rect x="309.2" y="222.2" width="181.1" height="81.2" filter="url(#nz)" opacity="0.42" style="mix-blend-mode:multiply"/>
<path d="M492,224 C476,246 458,270 440,306 L460,306 C472,280 484,258 494,244 Z" fill="#000" filter="url(#nzin)" opacity="0.35" style="mix-blend-mode:multiply"/>
<path d="M309,248 C318,258 328,276 336,304 L309,304 Z" fill="#000" filter="url(#nzin)" opacity="0.3" style="mix-blend-mode:multiply"/>
<circle cx="322.50" cy="271.30" r="0.9" fill="#111" stroke="none" stroke-width="0"/>
<circle cx="330.40" cy="287.00" r="2.1" fill="#111" stroke="none" stroke-width="0"/>
<circle cx="443.10" cy="270.50" r="1.1" fill="#111" stroke="none" stroke-width="0"/>
<path d="M313.2,265.8 L315.8,262.6 L319.8,268.2 Z" fill="#c33c9c"/>
<path d="M433.7,266.1 L435.9,263.1 L439.8,268.4 Z" fill="#c33c9c"/>
<line x1="437.00" y1="301.20" x2="488.80" y2="301.20" stroke="#222" stroke-width="1.4"/>
</g>
<text x="571.90" y="199.00" font-size="8.6" text-anchor="middle" fill="#231f20" stroke="#231f20" stroke-width="0.18">GluA2</text>
<line x1="526.30" y1="215.95" x2="526.30" y2="306.40" stroke="#231f20" stroke-width="0.9"/>
<line x1="524.10" y1="215.95" x2="526.30" y2="215.95" stroke="#231f20" stroke-width="0.9"/>
<text x="523.70" y="218.40" font-size="6.8" text-anchor="end" fill="#231f20" stroke="#231f20" stroke-width="0.18">60</text>
<line x1="524.10" y1="246.10" x2="526.30" y2="246.10" stroke="#231f20" stroke-width="0.9"/>
<text x="523.70" y="248.55" font-size="6.8" text-anchor="end" fill="#231f20" stroke="#231f20" stroke-width="0.18">40</text>
<line x1="524.10" y1="276.25" x2="526.30" y2="276.25" stroke="#231f20" stroke-width="0.9"/>
<text x="523.70" y="278.70" font-size="6.8" text-anchor="end" fill="#231f20" stroke="#231f20" stroke-width="0.18">20</text>
<line x1="524.10" y1="306.40" x2="526.30" y2="306.40" stroke="#231f20" stroke-width="0.9"/>
<text x="523.70" y="308.85" font-size="6.8" text-anchor="end" fill="#231f20" stroke="#231f20" stroke-width="0.18">0</text>
<rect x="533.90" y="295.85" width="13.80" height="10.55" fill="#d9d9d9"/>
<rect x="554.80" y="283.03" width="13.80" height="23.37" fill="#f9d6d7"/>
<rect x="575.60" y="293.89" width="13.80" height="12.51" fill="#7a7a7a"/>
<rect x="596.50" y="252.13" width="13.80" height="54.27" fill="#e6242a"/>
<line x1="526.30" y1="306.40" x2="616.40" y2="306.40" stroke="#231f20" stroke-width="0.9"/>
<circle cx="537.50" cy="306.40" r="1.4" fill="none" stroke="#231f20" stroke-width="0.7"/>
<circle cx="539.70" cy="306.40" r="1.4" fill="none" stroke="#231f20" stroke-width="0.7"/>
<circle cx="541.90" cy="306.40" r="1.4" fill="none" stroke="#231f20" stroke-width="0.7"/>
<circle cx="544.10" cy="306.40" r="1.4" fill="none" stroke="#231f20" stroke-width="0.7"/>
<circle cx="540.80" cy="276.25" r="1.45" fill="none" stroke="#231f20" stroke-width="0.65"/>
<circle cx="540.80" cy="273.99" r="1.45" fill="none" stroke="#231f20" stroke-width="0.65"/>
<circle cx="562.00" cy="264.19" r="1.4" fill="none" stroke="#231f20" stroke-width="0.7"/>
<circle cx="562.00" cy="266.45" r="1.4" fill="none" stroke="#231f20" stroke-width="0.7"/>
<circle cx="562.00" cy="268.71" r="1.4" fill="none" stroke="#231f20" stroke-width="0.7"/>
<circle cx="562.00" cy="271.73" r="1.4" fill="none" stroke="#231f20" stroke-width="0.7"/>
<circle cx="561.70" cy="276.25" r="1.4" fill="none" stroke="#231f20" stroke-width="0.7"/>
<circle cx="561.70" cy="285.29" r="1.4" fill="none" stroke="#231f20" stroke-width="0.7"/>
<circle cx="561.70" cy="286.05" r="1.4" fill="none" stroke="#231f20" stroke-width="0.7"/>
<circle cx="561.70" cy="306.40" r="1.4" fill="none" stroke="#231f20" stroke-width="0.7"/>
<circle cx="578.00" cy="306.40" r="1.4" fill="none" stroke="#231f20" stroke-width="0.7"/>
<circle cx="579.80" cy="306.40" r="1.4" fill="none" stroke="#231f20" stroke-width="0.7"/>
<circle cx="581.60" cy="306.40" r="1.4" fill="none" stroke="#231f20" stroke-width="0.7"/>
<circle cx="583.40" cy="306.40" r="1.4" fill="none" stroke="#231f20" stroke-width="0.7"/>
<circle cx="585.20" cy="306.40" r="1.4" fill="none" stroke="#231f20" stroke-width="0.7"/>
<circle cx="587.00" cy="306.40" r="1.4" fill="none" stroke="#231f20" stroke-width="0.7"/>
<circle cx="582.50" cy="265.70" r="1.4" fill="none" stroke="#231f20" stroke-width="0.7"/>
<circle cx="582.00" cy="272.48" r="1.4" fill="none" stroke="#231f20" stroke-width="0.7"/>
<circle cx="583.50" cy="273.24" r="1.4" fill="none" stroke="#231f20" stroke-width="0.7"/>
<circle cx="582.50" cy="288.31" r="1.4" fill="none" stroke="#231f20" stroke-width="0.7"/>
<circle cx="603.40" cy="232.53" r="1.4" fill="none" stroke="#231f20" stroke-width="0.7"/>
<circle cx="603.40" cy="234.79" r="1.4" fill="none" stroke="#231f20" stroke-width="0.7"/>
<circle cx="603.40" cy="237.81" r="1.4" fill="none" stroke="#231f20" stroke-width="0.7"/>
<circle cx="603.40" cy="241.58" r="1.4" fill="none" stroke="#231f20" stroke-width="0.7"/>
<circle cx="603.40" cy="246.85" r="1.4" fill="none" stroke="#231f20" stroke-width="0.7"/>
<circle cx="603.40" cy="254.39" r="1.4" fill="none" stroke="#231f20" stroke-width="0.7"/>
<circle cx="603.70" cy="255.90" r="1.4" fill="none" stroke="#231f20" stroke-width="0.7"/>
<circle cx="603.40" cy="306.40" r="1.4" fill="none" stroke="#231f20" stroke-width="0.7"/>
<line x1="540.80" y1="289.06" x2="540.80" y2="302.63" stroke="#231f20" stroke-width="0.9"/>
<line x1="537.60" y1="289.06" x2="544.00" y2="289.06" stroke="#231f20" stroke-width="0.9"/>
<line x1="537.60" y1="302.63" x2="544.00" y2="302.63" stroke="#231f20" stroke-width="0.9"/>
<line x1="561.70" y1="277.00" x2="561.70" y2="289.06" stroke="#231f20" stroke-width="0.9"/>
<line x1="558.50" y1="277.00" x2="564.90" y2="277.00" stroke="#231f20" stroke-width="0.9"/>
<line x1="558.50" y1="289.06" x2="564.90" y2="289.06" stroke="#231f20" stroke-width="0.9"/>
<line x1="582.50" y1="287.86" x2="582.50" y2="299.92" stroke="#231f20" stroke-width="0.9"/>
<line x1="579.30" y1="287.86" x2="585.70" y2="287.86" stroke="#231f20" stroke-width="0.9"/>
<line x1="579.30" y1="299.92" x2="585.70" y2="299.92" stroke="#231f20" stroke-width="0.9"/>
<line x1="603.40" y1="242.33" x2="603.40" y2="261.93" stroke="#231f20" stroke-width="0.9"/>
<line x1="600.20" y1="242.33" x2="606.60" y2="242.33" stroke="#231f20" stroke-width="0.9"/>
<line x1="600.20" y1="261.93" x2="606.60" y2="261.93" stroke="#231f20" stroke-width="0.9"/>
<line x1="539.90" y1="208.20" x2="603.10" y2="208.20" stroke="#222" stroke-width="1.2"/>
<circle cx="570.15" cy="204.90" r="0.9" fill="#222" stroke="none" stroke-width="0"/>
<circle cx="573.25" cy="204.90" r="0.9" fill="#222" stroke="none" stroke-width="0"/>
<line x1="561.30" y1="217.00" x2="603.10" y2="217.00" stroke="#9a9a9a" stroke-width="1.5"/>
<circle cx="582.30" cy="213.70" r="0.9" fill="#222" stroke="none" stroke-width="0"/>
<line x1="582.10" y1="225.40" x2="603.10" y2="225.40" stroke="#333" stroke-width="1.2"/>
<circle cx="590.95" cy="222.50" r="0.9" fill="#222" stroke="none" stroke-width="0"/>
<circle cx="594.05" cy="222.50" r="0.9" fill="#222" stroke="none" stroke-width="0"/>
<text x="540.50" y="315.90" font-size="7.6" text-anchor="middle" fill="#231f20" stroke="#231f20" stroke-width="0.18">Cont</text>
<text x="561.00" y="315.90" font-size="7.6" text-anchor="middle" fill="#231f20" stroke="#231f20" stroke-width="0.18">cKD</text>
<text x="581.30" y="315.90" font-size="7.6" text-anchor="middle" fill="#231f20" stroke="#231f20" stroke-width="0.18">Cont</text>
<text x="601.80" y="315.90" font-size="7.6" text-anchor="middle" fill="#231f20" stroke="#231f20" stroke-width="0.18">cKD</text>
<line x1="533.00" y1="320.50" x2="568.00" y2="320.50" stroke="#999" stroke-width="1.2"/>
<text x="551.40" y="330.40" font-size="7.35" text-anchor="middle" fill="#231f20" stroke="#231f20" stroke-width="0.18">+saline</text>
<line x1="572.80" y1="320.50" x2="607.90" y2="320.50" stroke="#999" stroke-width="1.2"/>
<text x="589.50" y="330.40" font-size="7.35" text-anchor="middle" fill="#231f20" stroke="#231f20" stroke-width="0.18">+cocaine</text>
<text x="509.60" y="261.50" font-size="7.3" text-anchor="middle" fill="#231f20" stroke="#231f20" stroke-width="0.18" transform="rotate(-90 509.6 261.5)">Density (n/μm<tspan font-size="4.6" dy="-2.6">2</tspan><tspan dy="2.6">)</tspan></text>
<text x="0.00" y="346.60" font-size="10.6" text-anchor="start" fill="#231f20" stroke="#231f20" stroke-width="0.18">e</text>
<text x="18.60" y="400.50" font-size="7.5" text-anchor="start" fill="#231f20" stroke="#231f20" stroke-width="0.18">Locomotor Test</text>
<text x="9.00" y="428.00" font-size="7.1" text-anchor="start" fill="#231f20" stroke="#231f20" stroke-width="0.18">A1 A2</text>
<line x1="13.20" y1="433.40" x2="78.70" y2="433.40" stroke="#333" stroke-width="1.1"/>
<line x1="13.20" y1="430.10" x2="13.20" y2="437.00" stroke="#222" stroke-width="1.0"/>
<line x1="24.40" y1="430.10" x2="24.40" y2="437.00" stroke="#222" stroke-width="1.0"/>
<line x1="32.20" y1="430.10" x2="32.20" y2="437.00" stroke="#222" stroke-width="1.0"/>
<line x1="34.20" y1="430.10" x2="34.20" y2="437.00" stroke="#aaa" stroke-width="1.0"/>
<line x1="44.30" y1="430.10" x2="44.30" y2="437.00" stroke="#aaa" stroke-width="1.0"/>
<line x1="54.20" y1="430.10" x2="54.20" y2="437.00" stroke="#aaa" stroke-width="1.0"/>
<line x1="64.20" y1="430.10" x2="64.20" y2="437.00" stroke="#aaa" stroke-width="1.0"/>
<line x1="74.10" y1="430.10" x2="74.10" y2="437.00" stroke="#aaa" stroke-width="1.0"/>
<line x1="34.40" y1="452.40" x2="34.40" y2="447.50" stroke="#222" stroke-width="1.0"/>
<path d="M32.80,448 L34.40,444.6 L36.00,448 Z" fill="#222"/>
<line x1="44.30" y1="452.40" x2="44.30" y2="447.50" stroke="#222" stroke-width="1.0"/>
<path d="M42.70,448 L44.30,444.6 L45.90,448 Z" fill="#222"/>
<line x1="54.20" y1="452.40" x2="54.20" y2="447.50" stroke="#222" stroke-width="1.0"/>
<path d="M52.60,448 L54.20,444.6 L55.80,448 Z" fill="#222"/>
<line x1="64.20" y1="452.40" x2="64.20" y2="447.50" stroke="#222" stroke-width="1.0"/>
<path d="M62.60,448 L64.20,444.6 L65.80,448 Z" fill="#222"/>
<line x1="74.10" y1="452.40" x2="74.10" y2="447.50" stroke="#222" stroke-width="1.0"/>
<path d="M72.50,448 L74.10,444.6 L75.70,448 Z" fill="#222"/>
<text x="35.20" y="440.40" font-size="6.9" text-anchor="end" fill="#231f20" stroke="#231f20" stroke-width="0.18" transform="rotate(-45 35.2 440.4)">pre- D1</text>
<text x="37.00" y="460.90" font-size="7.5" text-anchor="start" fill="#231f20" stroke="#231f20" stroke-width="0.18">+ Cocaine</text>
<text x="149.00" y="361.20" font-size="8.6" text-anchor="start" fill="#231f20" stroke="#231f20" stroke-width="0.18">Locomotor activity</text>
<line x1="118.30" y1="387.10" x2="118.30" y2="471.70" stroke="#231f20" stroke-width="0.9"/>
<line x1="116.10" y1="386.90" x2="118.30" y2="386.90" stroke="#231f20" stroke-width="0.9"/>
<text x="115.70" y="389.25" font-size="6.5" text-anchor="end" fill="#231f20" stroke="#231f20" stroke-width="0.18">200</text>
<line x1="116.10" y1="429.30" x2="118.30" y2="429.30" stroke="#231f20" stroke-width="0.9"/>
<text x="115.70" y="431.65" font-size="6.5" text-anchor="end" fill="#231f20" stroke="#231f20" stroke-width="0.18">100</text>
<line x1="116.10" y1="471.70" x2="118.30" y2="471.70" stroke="#231f20" stroke-width="0.9"/>
<text x="115.70" y="474.05" font-size="6.5" text-anchor="end" fill="#231f20" stroke="#231f20" stroke-width="0.18">0</text>
<line x1="118.30" y1="471.70" x2="246.00" y2="471.70" stroke="#231f20" stroke-width="0.9"/>
<line x1="118.30" y1="471.70" x2="118.30" y2="473.90" stroke="#231f20" stroke-width="0.9"/>
<line x1="136.20" y1="471.70" x2="136.20" y2="474.50" stroke="#231f20" stroke-width="0.9"/>
<text x="136.20" y="480.90" font-size="8.0" text-anchor="middle" fill="#231f20" stroke="#231f20" stroke-width="0.18">A2</text>
<line x1="154.20" y1="471.70" x2="154.20" y2="474.50" stroke="#231f20" stroke-width="0.9"/>
<text x="159.20" y="480.00" font-size="7.6" text-anchor="end" fill="#231f20" stroke="#231f20" stroke-width="0.18" transform="rotate(-45 159.2 480.0)">pre-D1</text>
<line x1="172.40" y1="471.70" x2="172.40" y2="474.50" stroke="#231f20" stroke-width="0.9"/>
<text x="177.40" y="480.00" font-size="7.6" text-anchor="end" fill="#231f20" stroke="#231f20" stroke-width="0.18" transform="rotate(-45 177.4 480.0)">post-D1</text>
<line x1="190.40" y1="471.70" x2="190.40" y2="474.50" stroke="#231f20" stroke-width="0.9"/>
<text x="190.40" y="480.90" font-size="8.0" text-anchor="middle" fill="#231f20" stroke="#231f20" stroke-width="0.18">D2</text>
<line x1="208.10" y1="471.70" x2="208.10" y2="474.50" stroke="#231f20" stroke-width="0.9"/>
<text x="208.10" y="480.90" font-size="8.0" text-anchor="middle" fill="#231f20" stroke="#231f20" stroke-width="0.18">D3</text>
<line x1="226.20" y1="471.70" x2="226.20" y2="474.50" stroke="#231f20" stroke-width="0.9"/>
<text x="226.20" y="480.90" font-size="8.0" text-anchor="middle" fill="#231f20" stroke="#231f20" stroke-width="0.18">D4</text>
<line x1="244.20" y1="471.70" x2="244.20" y2="474.50" stroke="#231f20" stroke-width="0.9"/>
<text x="244.20" y="480.90" font-size="8.0" text-anchor="middle" fill="#231f20" stroke="#231f20" stroke-width="0.18">D5</text>
<text x="97.30" y="429.50" font-size="7.45" text-anchor="middle" fill="#231f20" stroke="#231f20" stroke-width="0.18" transform="rotate(-90 97.3 429.5)">Travel distance (m)</text>
<path d="M136.20,461.90 L154.20,459.50 L172.40,443.40 L190.40,434.30 L208.10,427.80 L226.20,423.80 L244.20,423.30" fill="none" stroke="#111" stroke-width="1.0"/>
<line x1="136.20" y1="460.70" x2="136.20" y2="463.10" stroke="#111" stroke-width="0.9"/>
<line x1="134.20" y1="460.70" x2="138.20" y2="460.70" stroke="#111" stroke-width="0.9"/>
<line x1="134.20" y1="463.10" x2="138.20" y2="463.10" stroke="#111" stroke-width="0.9"/>
<circle cx="136.20" cy="461.90" r="2.2" fill="#111" stroke="none" stroke-width="0"/>
<line x1="154.20" y1="458.30" x2="154.20" y2="460.70" stroke="#111" stroke-width="0.9"/>
<line x1="152.20" y1="458.30" x2="156.20" y2="458.30" stroke="#111" stroke-width="0.9"/>
<line x1="152.20" y1="460.70" x2="156.20" y2="460.70" stroke="#111" stroke-width="0.9"/>
<circle cx="154.20" cy="459.50" r="2.2" fill="#111" stroke="none" stroke-width="0"/>
<line x1="172.40" y1="439.90" x2="172.40" y2="446.90" stroke="#111" stroke-width="0.9"/>
<line x1="170.40" y1="439.90" x2="174.40" y2="439.90" stroke="#111" stroke-width="0.9"/>
<line x1="170.40" y1="446.90" x2="174.40" y2="446.90" stroke="#111" stroke-width="0.9"/>
<circle cx="172.40" cy="443.40" r="2.2" fill="#111" stroke="none" stroke-width="0"/>
<line x1="190.40" y1="430.30" x2="190.40" y2="438.30" stroke="#111" stroke-width="0.9"/>
<line x1="188.40" y1="430.30" x2="192.40" y2="430.30" stroke="#111" stroke-width="0.9"/>
<line x1="188.40" y1="438.30" x2="192.40" y2="438.30" stroke="#111" stroke-width="0.9"/>
<circle cx="190.40" cy="434.30" r="2.2" fill="#111" stroke="none" stroke-width="0"/>
<line x1="208.10" y1="423.80" x2="208.10" y2="431.80" stroke="#111" stroke-width="0.9"/>
<line x1="206.10" y1="423.80" x2="210.10" y2="423.80" stroke="#111" stroke-width="0.9"/>
<line x1="206.10" y1="431.80" x2="210.10" y2="431.80" stroke="#111" stroke-width="0.9"/>
<circle cx="208.10" cy="427.80" r="2.2" fill="#111" stroke="none" stroke-width="0"/>
<line x1="226.20" y1="419.30" x2="226.20" y2="428.30" stroke="#111" stroke-width="0.9"/>
<line x1="224.20" y1="419.30" x2="228.20" y2="419.30" stroke="#111" stroke-width="0.9"/>
<line x1="224.20" y1="428.30" x2="228.20" y2="428.30" stroke="#111" stroke-width="0.9"/>
<circle cx="226.20" cy="423.80" r="2.2" fill="#111" stroke="none" stroke-width="0"/>
<line x1="244.20" y1="418.80" x2="244.20" y2="427.80" stroke="#111" stroke-width="0.9"/>
<line x1="242.20" y1="418.80" x2="246.20" y2="418.80" stroke="#111" stroke-width="0.9"/>
<line x1="242.20" y1="427.80" x2="246.20" y2="427.80" stroke="#111" stroke-width="0.9"/>
<circle cx="244.20" cy="423.30" r="2.2" fill="#111" stroke="none" stroke-width="0"/>
<path d="M136.20,460.20 L154.20,459.00 L172.40,432.90 L190.40,416.30 L208.10,405.30 L226.20,404.20 L244.20,401.70" fill="none" stroke="#e6242a" stroke-width="1.0"/>
<line x1="136.20" y1="459.20" x2="136.20" y2="461.20" stroke="#e6242a" stroke-width="0.9"/>
<line x1="134.20" y1="459.20" x2="138.20" y2="459.20" stroke="#e6242a" stroke-width="0.9"/>
<line x1="134.20" y1="461.20" x2="138.20" y2="461.20" stroke="#e6242a" stroke-width="0.9"/>
<circle cx="136.20" cy="460.20" r="2.2" fill="#e6242a" stroke="none" stroke-width="0"/>
<line x1="154.20" y1="458.00" x2="154.20" y2="460.00" stroke="#e6242a" stroke-width="0.9"/>
<line x1="152.20" y1="458.00" x2="156.20" y2="458.00" stroke="#e6242a" stroke-width="0.9"/>
<line x1="152.20" y1="460.00" x2="156.20" y2="460.00" stroke="#e6242a" stroke-width="0.9"/>
<circle cx="154.20" cy="459.00" r="2.2" fill="#e6242a" stroke="none" stroke-width="0"/>
<line x1="172.40" y1="429.90" x2="172.40" y2="435.90" stroke="#e6242a" stroke-width="0.9"/>
<line x1="170.40" y1="429.90" x2="174.40" y2="429.90" stroke="#e6242a" stroke-width="0.9"/>
<line x1="170.40" y1="435.90" x2="174.40" y2="435.90" stroke="#e6242a" stroke-width="0.9"/>
<circle cx="172.40" cy="432.90" r="2.2" fill="#e6242a" stroke="none" stroke-width="0"/>
<line x1="190.40" y1="413.10" x2="190.40" y2="419.50" stroke="#e6242a" stroke-width="0.9"/>
<line x1="188.40" y1="413.10" x2="192.40" y2="413.10" stroke="#e6242a" stroke-width="0.9"/>
<line x1="188.40" y1="419.50" x2="192.40" y2="419.50" stroke="#e6242a" stroke-width="0.9"/>
<circle cx="190.40" cy="416.30" r="2.2" fill="#e6242a" stroke="none" stroke-width="0"/>
<line x1="208.10" y1="402.30" x2="208.10" y2="408.30" stroke="#e6242a" stroke-width="0.9"/>
<line x1="206.10" y1="402.30" x2="210.10" y2="402.30" stroke="#e6242a" stroke-width="0.9"/>
<line x1="206.10" y1="408.30" x2="210.10" y2="408.30" stroke="#e6242a" stroke-width="0.9"/>
<circle cx="208.10" cy="405.30" r="2.2" fill="#e6242a" stroke="none" stroke-width="0"/>
<line x1="226.20" y1="400.70" x2="226.20" y2="407.70" stroke="#e6242a" stroke-width="0.9"/>
<line x1="224.20" y1="400.70" x2="228.20" y2="400.70" stroke="#e6242a" stroke-width="0.9"/>
<line x1="224.20" y1="407.70" x2="228.20" y2="407.70" stroke="#e6242a" stroke-width="0.9"/>
<circle cx="226.20" cy="404.20" r="2.2" fill="#e6242a" stroke="none" stroke-width="0"/>
<line x1="244.20" y1="398.40" x2="244.20" y2="405.00" stroke="#e6242a" stroke-width="0.9"/>
<line x1="242.20" y1="398.40" x2="246.20" y2="398.40" stroke="#e6242a" stroke-width="0.9"/>
<line x1="242.20" y1="405.00" x2="246.20" y2="405.00" stroke="#e6242a" stroke-width="0.9"/>
<circle cx="244.20" cy="401.70" r="2.2" fill="#e6242a" stroke="none" stroke-width="0"/>
<circle cx="190.20" cy="405.40" r="1.0" fill="#222" stroke="none" stroke-width="0"/>
<circle cx="204.70" cy="396.00" r="1.0" fill="#222" stroke="none" stroke-width="0"/>
<circle cx="208.00" cy="396.00" r="1.0" fill="#222" stroke="none" stroke-width="0"/>
<circle cx="211.30" cy="396.00" r="1.0" fill="#222" stroke="none" stroke-width="0"/>
<circle cx="224.75" cy="393.00" r="1.0" fill="#222" stroke="none" stroke-width="0"/>
<circle cx="228.05" cy="393.00" r="1.0" fill="#222" stroke="none" stroke-width="0"/>
<circle cx="242.55" cy="389.40" r="1.0" fill="#222" stroke="none" stroke-width="0"/>
<circle cx="245.85" cy="389.40" r="1.0" fill="#222" stroke="none" stroke-width="0"/>
<rect x="214" y="440.4" width="29.9" height="21.2" fill="#fff" stroke="#555" stroke-width="0.9"/>
<line x1="216.10" y1="446.20" x2="221.90" y2="446.20" stroke="#111" stroke-width="1.8"/>
<text x="225.60" y="449.00" font-size="7.5" text-anchor="start" fill="#231f20" stroke="#231f20" stroke-width="0.18">Cont</text>
<line x1="216.10" y1="456.40" x2="221.90" y2="456.40" stroke="#e6242a" stroke-width="1.8"/>
<text x="225.60" y="459.20" font-size="7.5" text-anchor="start" fill="#231f20" stroke="#231f20" stroke-width="0.18">cKD</text>
<text x="293.90" y="360.80" font-size="8.6" text-anchor="start" fill="#231f20" stroke="#231f20" stroke-width="0.18">D5 Locomotor activity</text>
<line x1="292.10" y1="387.50" x2="292.10" y2="471.50" stroke="#231f20" stroke-width="0.9"/>
<line x1="289.90" y1="387.50" x2="292.10" y2="387.50" stroke="#231f20" stroke-width="0.9"/>
<text x="289.50" y="389.84" font-size="6.5" text-anchor="end" fill="#231f20" stroke="#231f20" stroke-width="0.18">250</text>
<line x1="289.90" y1="404.30" x2="292.10" y2="404.30" stroke="#231f20" stroke-width="0.9"/>
<text x="289.50" y="406.64" font-size="6.5" text-anchor="end" fill="#231f20" stroke="#231f20" stroke-width="0.18">200</text>
<line x1="289.90" y1="421.10" x2="292.10" y2="421.10" stroke="#231f20" stroke-width="0.9"/>
<text x="289.50" y="423.44" font-size="6.5" text-anchor="end" fill="#231f20" stroke="#231f20" stroke-width="0.18">150</text>
<line x1="289.90" y1="437.90" x2="292.10" y2="437.90" stroke="#231f20" stroke-width="0.9"/>
<text x="289.50" y="440.24" font-size="6.5" text-anchor="end" fill="#231f20" stroke="#231f20" stroke-width="0.18">100</text>
<line x1="289.90" y1="454.70" x2="292.10" y2="454.70" stroke="#231f20" stroke-width="0.9"/>
<text x="289.50" y="457.04" font-size="6.5" text-anchor="end" fill="#231f20" stroke="#231f20" stroke-width="0.18">50</text>
<line x1="289.90" y1="471.50" x2="292.10" y2="471.50" stroke="#231f20" stroke-width="0.9"/>
<text x="289.50" y="473.84" font-size="6.5" text-anchor="end" fill="#231f20" stroke="#231f20" stroke-width="0.18">0</text>
<rect x="297.40" y="464.78" width="13.60" height="6.72" fill="#d9d9d9"/>
<rect x="317.50" y="464.11" width="13.60" height="7.39" fill="#f9d6d7"/>
<rect x="337.20" y="433.53" width="13.60" height="37.97" fill="#7a7a7a"/>
<rect x="356.60" y="416.06" width="13.60" height="55.44" fill="#e6242a"/>
<line x1="292.10" y1="471.50" x2="375.00" y2="471.50" stroke="#231f20" stroke-width="0.9"/>
<circle cx="305.73" cy="465.69" r="1.75" fill="none" stroke="#231f20" stroke-width="0.8"/>
<circle cx="307.45" cy="467.10" r="1.75" fill="none" stroke="#231f20" stroke-width="0.8"/>
<circle cx="306.90" cy="466.96" r="1.75" fill="none" stroke="#231f20" stroke-width="0.8"/>
<circle cx="299.79" cy="463.76" r="1.75" fill="none" stroke="#231f20" stroke-width="0.8"/>
<circle cx="308.93" cy="465.04" r="1.75" fill="none" stroke="#231f20" stroke-width="0.8"/>
<circle cx="308.51" cy="461.29" r="1.75" fill="none" stroke="#231f20" stroke-width="0.8"/>
<circle cx="304.19" cy="462.23" r="1.75" fill="none" stroke="#231f20" stroke-width="0.8"/>
<circle cx="304.94" cy="464.52" r="1.75" fill="none" stroke="#231f20" stroke-width="0.8"/>
<circle cx="299.63" cy="462.02" r="1.75" fill="none" stroke="#231f20" stroke-width="0.8"/>
<circle cx="302.29" cy="466.91" r="1.75" fill="none" stroke="#231f20" stroke-width="0.8"/>
<circle cx="307.16" cy="461.62" r="1.75" fill="none" stroke="#231f20" stroke-width="0.8"/>
<circle cx="307.47" cy="461.47" r="1.75" fill="none" stroke="#231f20" stroke-width="0.8"/>
<circle cx="305.67" cy="461.39" r="1.75" fill="none" stroke="#231f20" stroke-width="0.8"/>
<circle cx="299.52" cy="466.60" r="1.75" fill="none" stroke="#231f20" stroke-width="0.8"/>
<circle cx="321.36" cy="458.87" r="1.75" fill="none" stroke="#231f20" stroke-width="0.8"/>
<circle cx="329.32" cy="466.10" r="1.75" fill="none" stroke="#231f20" stroke-width="0.8"/>
<circle cx="322.18" cy="467.08" r="1.75" fill="none" stroke="#231f20" stroke-width="0.8"/>
<circle cx="324.75" cy="463.96" r="1.75" fill="none" stroke="#231f20" stroke-width="0.8"/>
<circle cx="321.31" cy="466.85" r="1.75" fill="none" stroke="#231f20" stroke-width="0.8"/>
<circle cx="326.31" cy="467.13" r="1.75" fill="none" stroke="#231f20" stroke-width="0.8"/>
<circle cx="328.41" cy="459.79" r="1.75" fill="none" stroke="#231f20" stroke-width="0.8"/>
<circle cx="322.92" cy="458.33" r="1.75" fill="none" stroke="#231f20" stroke-width="0.8"/>
<circle cx="320.70" cy="457.22" r="1.75" fill="none" stroke="#231f20" stroke-width="0.8"/>
<circle cx="322.30" cy="463.13" r="1.75" fill="none" stroke="#231f20" stroke-width="0.8"/>
<circle cx="319.23" cy="463.96" r="1.75" fill="none" stroke="#231f20" stroke-width="0.8"/>
<circle cx="322.68" cy="459.91" r="1.75" fill="none" stroke="#231f20" stroke-width="0.8"/>
<circle cx="327.63" cy="461.79" r="1.75" fill="none" stroke="#231f20" stroke-width="0.8"/>
<circle cx="322.45" cy="461.79" r="1.75" fill="none" stroke="#231f20" stroke-width="0.8"/>
<circle cx="326.46" cy="457.13" r="1.75" fill="none" stroke="#231f20" stroke-width="0.8"/>
<circle cx="329.24" cy="456.75" r="1.75" fill="none" stroke="#231f20" stroke-width="0.8"/>
<circle cx="341.30" cy="410.10" r="1.75" fill="none" stroke="#231f20" stroke-width="0.8"/>
<circle cx="346.10" cy="407.70" r="1.75" fill="none" stroke="#231f20" stroke-width="0.8"/>
<circle cx="339.20" cy="423.90" r="1.75" fill="none" stroke="#231f20" stroke-width="0.8"/>
<circle cx="344.00" cy="423.30" r="1.75" fill="none" stroke="#231f20" stroke-width="0.8"/>
<circle cx="348.80" cy="426.00" r="1.75" fill="none" stroke="#231f20" stroke-width="0.8"/>
<circle cx="349.20" cy="429.90" r="1.75" fill="none" stroke="#231f20" stroke-width="0.8"/>
<circle cx="339.20" cy="431.80" r="1.75" fill="none" stroke="#231f20" stroke-width="0.8"/>
<circle cx="344.00" cy="432.30" r="1.75" fill="none" stroke="#231f20" stroke-width="0.8"/>
<circle cx="344.00" cy="436.30" r="1.75" fill="none" stroke="#231f20" stroke-width="0.8"/>
<circle cx="339.20" cy="442.90" r="1.75" fill="none" stroke="#231f20" stroke-width="0.8"/>
<circle cx="348.80" cy="443.40" r="1.75" fill="none" stroke="#231f20" stroke-width="0.8"/>
<circle cx="344.00" cy="445.80" r="1.75" fill="none" stroke="#231f20" stroke-width="0.8"/>
<circle cx="348.80" cy="448.20" r="1.75" fill="none" stroke="#231f20" stroke-width="0.8"/>
<circle cx="339.20" cy="450.20" r="1.75" fill="none" stroke="#231f20" stroke-width="0.8"/>
<circle cx="344.00" cy="439.40" r="1.75" fill="none" stroke="#231f20" stroke-width="0.8"/>
<circle cx="363.10" cy="393.70" r="1.75" fill="none" stroke="#231f20" stroke-width="0.8"/>
<circle cx="361.90" cy="404.80" r="1.75" fill="none" stroke="#231f20" stroke-width="0.8"/>
<circle cx="365.40" cy="406.90" r="1.75" fill="none" stroke="#231f20" stroke-width="0.8"/>
<circle cx="358.30" cy="410.10" r="1.75" fill="none" stroke="#231f20" stroke-width="0.8"/>
<circle cx="362.50" cy="410.90" r="1.75" fill="none" stroke="#231f20" stroke-width="0.8"/>
<circle cx="367.80" cy="411.70" r="1.75" fill="none" stroke="#231f20" stroke-width="0.8"/>
<circle cx="359.90" cy="414.00" r="1.75" fill="none" stroke="#231f20" stroke-width="0.8"/>
<circle cx="363.80" cy="414.80" r="1.75" fill="none" stroke="#231f20" stroke-width="0.8"/>
<circle cx="358.30" cy="417.20" r="1.75" fill="none" stroke="#231f20" stroke-width="0.8"/>
<circle cx="363.00" cy="418.00" r="1.75" fill="none" stroke="#231f20" stroke-width="0.8"/>
<circle cx="367.00" cy="418.80" r="1.75" fill="none" stroke="#231f20" stroke-width="0.8"/>
<circle cx="360.70" cy="420.40" r="1.75" fill="none" stroke="#231f20" stroke-width="0.8"/>
<circle cx="364.60" cy="421.20" r="1.75" fill="none" stroke="#231f20" stroke-width="0.8"/>
<circle cx="367.80" cy="422.00" r="1.75" fill="none" stroke="#231f20" stroke-width="0.8"/>
<circle cx="361.50" cy="424.40" r="1.75" fill="none" stroke="#231f20" stroke-width="0.8"/>
<circle cx="366.20" cy="425.20" r="1.75" fill="none" stroke="#231f20" stroke-width="0.8"/>
<circle cx="363.00" cy="429.90" r="1.75" fill="none" stroke="#231f20" stroke-width="0.8"/>
<line x1="304.20" y1="463.58" x2="304.20" y2="465.98" stroke="#231f20" stroke-width="0.9"/>
<line x1="301.00" y1="463.58" x2="307.40" y2="463.58" stroke="#231f20" stroke-width="0.9"/>
<line x1="301.00" y1="465.98" x2="307.40" y2="465.98" stroke="#231f20" stroke-width="0.9"/>
<line x1="324.30" y1="462.61" x2="324.30" y2="465.61" stroke="#231f20" stroke-width="0.9"/>
<line x1="321.10" y1="462.61" x2="327.50" y2="462.61" stroke="#231f20" stroke-width="0.9"/>
<line x1="321.10" y1="465.61" x2="327.50" y2="465.61" stroke="#231f20" stroke-width="0.9"/>
<line x1="344.00" y1="430.03" x2="344.00" y2="437.03" stroke="#231f20" stroke-width="0.9"/>
<line x1="340.80" y1="430.03" x2="347.20" y2="430.03" stroke="#231f20" stroke-width="0.9"/>
<line x1="340.80" y1="437.03" x2="347.20" y2="437.03" stroke="#231f20" stroke-width="0.9"/>
<line x1="363.40" y1="413.56" x2="363.40" y2="418.56" stroke="#231f20" stroke-width="0.9"/>
<line x1="360.20" y1="413.56" x2="366.60" y2="413.56" stroke="#231f20" stroke-width="0.9"/>
<line x1="360.20" y1="418.56" x2="366.60" y2="418.56" stroke="#231f20" stroke-width="0.9"/>
<line x1="303.50" y1="375.20" x2="361.70" y2="375.20" stroke="#444" stroke-width="1.3"/>
<circle cx="328.10" cy="371.70" r="0.9" fill="#222" stroke="none" stroke-width="0"/>
<circle cx="330.87" cy="371.70" r="0.9" fill="#222" stroke="none" stroke-width="0"/>
<circle cx="333.63" cy="371.70" r="0.9" fill="#222" stroke="none" stroke-width="0"/>
<circle cx="336.40" cy="371.70" r="0.9" fill="#222" stroke="none" stroke-width="0"/>
<line x1="323.70" y1="381.40" x2="361.70" y2="381.40" stroke="#444" stroke-width="1.3"/>
<circle cx="338.45" cy="379.30" r="0.9" fill="#222" stroke="none" stroke-width="0"/>
<circle cx="341.22" cy="379.30" r="0.9" fill="#222" stroke="none" stroke-width="0"/>
<circle cx="343.99" cy="379.30" r="0.9" fill="#222" stroke="none" stroke-width="0"/>
<circle cx="346.75" cy="379.30" r="0.9" fill="#222" stroke="none" stroke-width="0"/>
<line x1="304.10" y1="388.40" x2="340.90" y2="388.40" stroke="#444" stroke-width="1.3"/>
<circle cx="318.35" cy="386.40" r="0.9" fill="#222" stroke="none" stroke-width="0"/>
<circle cx="321.12" cy="386.40" r="0.9" fill="#222" stroke="none" stroke-width="0"/>
<circle cx="323.88" cy="386.40" r="0.9" fill="#222" stroke="none" stroke-width="0"/>
<circle cx="326.65" cy="386.40" r="0.9" fill="#222" stroke="none" stroke-width="0"/>
<line x1="344.60" y1="388.40" x2="362.20" y2="388.40" stroke="#444" stroke-width="1.3"/>
<circle cx="349.25" cy="386.40" r="0.9" fill="#222" stroke="none" stroke-width="0"/>
<circle cx="352.01" cy="386.40" r="0.9" fill="#222" stroke="none" stroke-width="0"/>
<circle cx="354.78" cy="386.40" r="0.9" fill="#222" stroke="none" stroke-width="0"/>
<circle cx="357.55" cy="386.40" r="0.9" fill="#222" stroke="none" stroke-width="0"/>
<line x1="323.30" y1="396.30" x2="342.90" y2="396.30" stroke="#444" stroke-width="1.3"/>
<circle cx="328.95" cy="393.90" r="0.9" fill="#222" stroke="none" stroke-width="0"/>
<circle cx="331.72" cy="393.90" r="0.9" fill="#222" stroke="none" stroke-width="0"/>
<circle cx="334.49" cy="393.90" r="0.9" fill="#222" stroke="none" stroke-width="0"/>
<circle cx="337.25" cy="393.90" r="0.9" fill="#222" stroke="none" stroke-width="0"/>
<text x="305.40" y="481.30" font-size="7.6" text-anchor="middle" fill="#231f20" stroke="#231f20" stroke-width="0.18">Cont</text>
<text x="323.90" y="481.30" font-size="7.6" text-anchor="middle" fill="#231f20" stroke="#231f20" stroke-width="0.18">cKD</text>
<text x="344.20" y="481.30" font-size="7.6" text-anchor="middle" fill="#231f20" stroke="#231f20" stroke-width="0.18">Cont</text>
<text x="363.10" y="481.30" font-size="7.6" text-anchor="middle" fill="#231f20" stroke="#231f20" stroke-width="0.18">cKD</text>
<line x1="298.60" y1="484.10" x2="330.00" y2="484.10" stroke="#555" stroke-width="1.1"/>
<text x="313.30" y="491.90" font-size="7.35" text-anchor="middle" fill="#231f20" stroke="#231f20" stroke-width="0.18">+saline</text>
<line x1="337.10" y1="484.10" x2="368.40" y2="484.10" stroke="#555" stroke-width="1.1"/>
<text x="352.20" y="491.90" font-size="7.35" text-anchor="middle" fill="#231f20" stroke="#231f20" stroke-width="0.18">+cocaine</text>
<text x="270.30" y="427.40" font-size="7.45" text-anchor="middle" fill="#231f20" stroke="#231f20" stroke-width="0.18" transform="rotate(-90 270.3 427.4)">Travel distance (m)</text>
<text x="386.60" y="346.70" font-size="11.6" text-anchor="start" fill="#231f20" stroke="#231f20" stroke-width="0.18">f</text>
<text x="456.30" y="361.20" font-size="8.6" text-anchor="start" fill="#231f20" stroke="#231f20" stroke-width="0.18">Locomotor activity</text>
<line x1="416.40" y1="386.50" x2="416.40" y2="470.10" stroke="#231f20" stroke-width="0.9"/>
<line x1="414.20" y1="386.70" x2="416.40" y2="386.70" stroke="#231f20" stroke-width="0.9"/>
<text x="413.80" y="389.05" font-size="6.5" text-anchor="end" fill="#231f20" stroke="#231f20" stroke-width="0.18">200</text>
<line x1="414.20" y1="428.40" x2="416.40" y2="428.40" stroke="#231f20" stroke-width="0.9"/>
<text x="413.80" y="430.75" font-size="6.5" text-anchor="end" fill="#231f20" stroke="#231f20" stroke-width="0.18">100</text>
<line x1="414.20" y1="470.10" x2="416.40" y2="470.10" stroke="#231f20" stroke-width="0.9"/>
<text x="413.80" y="472.45" font-size="6.5" text-anchor="end" fill="#231f20" stroke="#231f20" stroke-width="0.18">0</text>
<line x1="416.40" y1="470.10" x2="548.00" y2="470.10" stroke="#231f20" stroke-width="0.9"/>
<line x1="416.40" y1="470.10" x2="416.40" y2="472.30" stroke="#231f20" stroke-width="0.9"/>
<line x1="428.90" y1="470.10" x2="428.90" y2="472.90" stroke="#231f20" stroke-width="0.9"/>
<text x="428.90" y="479.30" font-size="8.0" text-anchor="middle" fill="#231f20" stroke="#231f20" stroke-width="0.18">A2</text>
<line x1="448.70" y1="470.10" x2="448.70" y2="472.90" stroke="#231f20" stroke-width="0.9"/>
<text x="453.70" y="478.40" font-size="7.6" text-anchor="end" fill="#231f20" stroke="#231f20" stroke-width="0.18" transform="rotate(-45 453.7 478.40000000000003)">pre-D1</text>
<line x1="468.60" y1="470.10" x2="468.60" y2="472.90" stroke="#231f20" stroke-width="0.9"/>
<text x="473.60" y="478.40" font-size="7.6" text-anchor="end" fill="#231f20" stroke="#231f20" stroke-width="0.18" transform="rotate(-45 473.6 478.40000000000003)">post-D1</text>
<line x1="488.00" y1="470.10" x2="488.00" y2="472.90" stroke="#231f20" stroke-width="0.9"/>
<text x="488.00" y="479.30" font-size="8.0" text-anchor="middle" fill="#231f20" stroke="#231f20" stroke-width="0.18">D2</text>
<line x1="507.90" y1="470.10" x2="507.90" y2="472.90" stroke="#231f20" stroke-width="0.9"/>
<text x="507.90" y="479.30" font-size="8.0" text-anchor="middle" fill="#231f20" stroke="#231f20" stroke-width="0.18">D3</text>
<line x1="527.50" y1="470.10" x2="527.50" y2="472.90" stroke="#231f20" stroke-width="0.9"/>
<text x="527.50" y="479.30" font-size="8.0" text-anchor="middle" fill="#231f20" stroke="#231f20" stroke-width="0.18">D4</text>
<line x1="547.30" y1="470.10" x2="547.30" y2="472.90" stroke="#231f20" stroke-width="0.9"/>
<text x="547.30" y="479.30" font-size="8.0" text-anchor="middle" fill="#231f20" stroke="#231f20" stroke-width="0.18">D5</text>
<text x="398.00" y="429.50" font-size="7.45" text-anchor="middle" fill="#231f20" stroke="#231f20" stroke-width="0.18" transform="rotate(-90 398 429.5)">Travel distance (m)</text>
<path d="M428.90,460.30 L448.70,457.90 L468.60,448.40 L488.00,438.60 L507.90,432.00 L527.50,430.40 L547.30,427.60" fill="none" stroke="#111" stroke-width="1.0"/>
<line x1="428.90" y1="458.80" x2="428.90" y2="461.80" stroke="#111" stroke-width="0.9"/>
<line x1="426.90" y1="458.80" x2="430.90" y2="458.80" stroke="#111" stroke-width="0.9"/>
<line x1="426.90" y1="461.80" x2="430.90" y2="461.80" stroke="#111" stroke-width="0.9"/>
<circle cx="428.90" cy="460.30" r="2.2" fill="#111" stroke="none" stroke-width="0"/>
<line x1="448.70" y1="456.40" x2="448.70" y2="459.40" stroke="#111" stroke-width="0.9"/>
<line x1="446.70" y1="456.40" x2="450.70" y2="456.40" stroke="#111" stroke-width="0.9"/>
<line x1="446.70" y1="459.40" x2="450.70" y2="459.40" stroke="#111" stroke-width="0.9"/>
<circle cx="448.70" cy="457.90" r="2.2" fill="#111" stroke="none" stroke-width="0"/>
<line x1="468.60" y1="445.40" x2="468.60" y2="451.40" stroke="#111" stroke-width="0.9"/>
<line x1="466.60" y1="445.40" x2="470.60" y2="445.40" stroke="#111" stroke-width="0.9"/>
<line x1="466.60" y1="451.40" x2="470.60" y2="451.40" stroke="#111" stroke-width="0.9"/>
<circle cx="468.60" cy="448.40" r="2.2" fill="#111" stroke="none" stroke-width="0"/>
<line x1="488.00" y1="437.60" x2="488.00" y2="439.60" stroke="#111" stroke-width="0.9"/>
<line x1="486.00" y1="437.60" x2="490.00" y2="437.60" stroke="#111" stroke-width="0.9"/>
<line x1="486.00" y1="439.60" x2="490.00" y2="439.60" stroke="#111" stroke-width="0.9"/>
<circle cx="488.00" cy="438.60" r="2.2" fill="#111" stroke="none" stroke-width="0"/>
<line x1="507.90" y1="428.40" x2="507.90" y2="435.60" stroke="#111" stroke-width="0.9"/>
<line x1="505.90" y1="428.40" x2="509.90" y2="428.40" stroke="#111" stroke-width="0.9"/>
<line x1="505.90" y1="435.60" x2="509.90" y2="435.60" stroke="#111" stroke-width="0.9"/>
<circle cx="507.90" cy="432.00" r="2.2" fill="#111" stroke="none" stroke-width="0"/>
<line x1="527.50" y1="424.40" x2="527.50" y2="436.40" stroke="#111" stroke-width="0.9"/>
<line x1="525.50" y1="424.40" x2="529.50" y2="424.40" stroke="#111" stroke-width="0.9"/>
<line x1="525.50" y1="436.40" x2="529.50" y2="436.40" stroke="#111" stroke-width="0.9"/>
<circle cx="527.50" cy="430.40" r="2.2" fill="#111" stroke="none" stroke-width="0"/>
<line x1="547.30" y1="423.60" x2="547.30" y2="431.60" stroke="#111" stroke-width="0.9"/>
<line x1="545.30" y1="423.60" x2="549.30" y2="423.60" stroke="#111" stroke-width="0.9"/>
<line x1="545.30" y1="431.60" x2="549.30" y2="431.60" stroke="#111" stroke-width="0.9"/>
<circle cx="547.30" cy="427.60" r="2.2" fill="#111" stroke="none" stroke-width="0"/>
<path d="M428.90,459.60 L448.70,454.20 L468.60,432.50 L488.00,426.40 L507.90,419.60 L527.50,416.80 L547.30,412.10" fill="none" stroke="#f7941e" stroke-width="1.0"/>
<line x1="428.90" y1="458.60" x2="428.90" y2="460.60" stroke="#f7941e" stroke-width="0.9"/>
<line x1="426.90" y1="458.60" x2="430.90" y2="458.60" stroke="#f7941e" stroke-width="0.9"/>
<line x1="426.90" y1="460.60" x2="430.90" y2="460.60" stroke="#f7941e" stroke-width="0.9"/>
<circle cx="428.90" cy="459.60" r="2.2" fill="#f7941e" stroke="none" stroke-width="0"/>
<line x1="448.70" y1="453.20" x2="448.70" y2="455.20" stroke="#f7941e" stroke-width="0.9"/>
<line x1="446.70" y1="453.20" x2="450.70" y2="453.20" stroke="#f7941e" stroke-width="0.9"/>
<line x1="446.70" y1="455.20" x2="450.70" y2="455.20" stroke="#f7941e" stroke-width="0.9"/>
<circle cx="448.70" cy="454.20" r="2.2" fill="#f7941e" stroke="none" stroke-width="0"/>
<line x1="468.60" y1="430.00" x2="468.60" y2="435.00" stroke="#f7941e" stroke-width="0.9"/>
<line x1="466.60" y1="430.00" x2="470.60" y2="430.00" stroke="#f7941e" stroke-width="0.9"/>
<line x1="466.60" y1="435.00" x2="470.60" y2="435.00" stroke="#f7941e" stroke-width="0.9"/>
<circle cx="468.60" cy="432.50" r="2.2" fill="#f7941e" stroke="none" stroke-width="0"/>
<line x1="488.00" y1="423.10" x2="488.00" y2="429.70" stroke="#f7941e" stroke-width="0.9"/>
<line x1="486.00" y1="423.10" x2="490.00" y2="423.10" stroke="#f7941e" stroke-width="0.9"/>
<line x1="486.00" y1="429.70" x2="490.00" y2="429.70" stroke="#f7941e" stroke-width="0.9"/>
<circle cx="488.00" cy="426.40" r="2.2" fill="#f7941e" stroke="none" stroke-width="0"/>
<line x1="507.90" y1="416.30" x2="507.90" y2="422.90" stroke="#f7941e" stroke-width="0.9"/>
<line x1="505.90" y1="416.30" x2="509.90" y2="416.30" stroke="#f7941e" stroke-width="0.9"/>
<line x1="505.90" y1="422.90" x2="509.90" y2="422.90" stroke="#f7941e" stroke-width="0.9"/>
<circle cx="507.90" cy="419.60" r="2.2" fill="#f7941e" stroke="none" stroke-width="0"/>
<line x1="527.50" y1="415.80" x2="527.50" y2="417.80" stroke="#f7941e" stroke-width="0.9"/>
<line x1="525.50" y1="415.80" x2="529.50" y2="415.80" stroke="#f7941e" stroke-width="0.9"/>
<line x1="525.50" y1="417.80" x2="529.50" y2="417.80" stroke="#f7941e" stroke-width="0.9"/>
<circle cx="527.50" cy="416.80" r="2.2" fill="#f7941e" stroke="none" stroke-width="0"/>
<line x1="547.30" y1="410.10" x2="547.30" y2="414.10" stroke="#f7941e" stroke-width="0.9"/>
<line x1="545.30" y1="410.10" x2="549.30" y2="410.10" stroke="#f7941e" stroke-width="0.9"/>
<line x1="545.30" y1="414.10" x2="549.30" y2="414.10" stroke="#f7941e" stroke-width="0.9"/>
<circle cx="547.30" cy="412.10" r="2.2" fill="#f7941e" stroke="none" stroke-width="0"/>
<circle cx="468.50" cy="418.60" r="1.0" fill="#222" stroke="none" stroke-width="0"/>
<circle cx="488.30" cy="415.60" r="1.0" fill="#222" stroke="none" stroke-width="0"/>
<rect x="517.2" y="439.2" width="30.3" height="21.3" fill="#fff" stroke="#555" stroke-width="0.9"/>
<line x1="519.20" y1="445.00" x2="525.60" y2="445.00" stroke="#111" stroke-width="2.2"/>
<text x="529.00" y="447.80" font-size="7.5" text-anchor="start" fill="#231f20" stroke="#231f20" stroke-width="0.18">Cont</text>
<line x1="519.20" y1="455.20" x2="525.60" y2="455.20" stroke="#f7941e" stroke-width="2.2"/>
<text x="529.00" y="458.00" font-size="7.5" text-anchor="start" fill="#231f20" stroke="#231f20" stroke-width="0.18">cKO</text>
<text x="595.80" y="360.90" font-size="8.6" text-anchor="start" fill="#231f20" stroke="#231f20" stroke-width="0.18">D5 Locomotor activity</text>
<line x1="594.30" y1="386.30" x2="594.30" y2="470.30" stroke="#231f20" stroke-width="0.9"/>
<line x1="592.10" y1="386.30" x2="594.30" y2="386.30" stroke="#231f20" stroke-width="0.9"/>
<text x="591.70" y="388.64" font-size="6.5" text-anchor="end" fill="#231f20" stroke="#231f20" stroke-width="0.18">200</text>
<line x1="592.10" y1="428.30" x2="594.30" y2="428.30" stroke="#231f20" stroke-width="0.9"/>
<text x="591.70" y="430.64" font-size="6.5" text-anchor="end" fill="#231f20" stroke="#231f20" stroke-width="0.18">100</text>
<line x1="592.10" y1="470.30" x2="594.30" y2="470.30" stroke="#231f20" stroke-width="0.9"/>
<text x="591.70" y="472.64" font-size="6.5" text-anchor="end" fill="#231f20" stroke="#231f20" stroke-width="0.18">0</text>
<rect x="600.50" y="456.44" width="13.30" height="13.86" fill="#d9d9d9"/>
<rect x="619.90" y="456.02" width="13.30" height="14.28" fill="#fcdcc2"/>
<rect x="639.40" y="427.46" width="13.30" height="42.84" fill="#7a7a7a"/>
<rect x="659.00" y="412.34" width="13.30" height="57.96" fill="#f26a25"/>
<line x1="594.30" y1="470.30" x2="678.70" y2="470.30" stroke="#231f20" stroke-width="0.9"/>
<circle cx="602.10" cy="453.50" r="1.75" fill="none" stroke="#231f20" stroke-width="0.8"/>
<circle cx="605.00" cy="453.80" r="1.75" fill="none" stroke="#231f20" stroke-width="0.8"/>
<circle cx="607.90" cy="453.80" r="1.75" fill="none" stroke="#231f20" stroke-width="0.8"/>
<circle cx="611.50" cy="453.50" r="1.75" fill="none" stroke="#231f20" stroke-width="0.8"/>
<circle cx="606.40" cy="455.70" r="1.75" fill="none" stroke="#231f20" stroke-width="0.8"/>
<circle cx="609.30" cy="455.70" r="1.75" fill="none" stroke="#231f20" stroke-width="0.8"/>
<circle cx="605.70" cy="460.80" r="1.75" fill="none" stroke="#231f20" stroke-width="0.8"/>
<circle cx="608.30" cy="460.80" r="1.75" fill="none" stroke="#231f20" stroke-width="0.8"/>
<circle cx="621.60" cy="452.10" r="1.75" fill="none" stroke="#231f20" stroke-width="0.8"/>
<circle cx="631.40" cy="451.80" r="1.75" fill="none" stroke="#231f20" stroke-width="0.8"/>
<circle cx="631.40" cy="455.70" r="1.75" fill="none" stroke="#231f20" stroke-width="0.8"/>
<circle cx="626.70" cy="462.90" r="1.75" fill="none" stroke="#231f20" stroke-width="0.8"/>
<circle cx="646.20" cy="414.80" r="1.75" fill="none" stroke="#231f20" stroke-width="0.8"/>
<circle cx="646.20" cy="424.30" r="1.75" fill="none" stroke="#231f20" stroke-width="0.8"/>
<circle cx="646.20" cy="426.80" r="1.75" fill="none" stroke="#231f20" stroke-width="0.8"/>
<circle cx="641.10" cy="436.20" r="1.75" fill="none" stroke="#231f20" stroke-width="0.8"/>
<circle cx="650.80" cy="434.00" r="1.75" fill="none" stroke="#231f20" stroke-width="0.8"/>
<circle cx="663.90" cy="404.60" r="1.75" fill="none" stroke="#231f20" stroke-width="0.8"/>
<circle cx="660.70" cy="407.50" r="1.75" fill="none" stroke="#231f20" stroke-width="0.8"/>
<circle cx="670.10" cy="407.20" r="1.75" fill="none" stroke="#231f20" stroke-width="0.8"/>
<circle cx="665.00" cy="410.10" r="1.75" fill="none" stroke="#231f20" stroke-width="0.8"/>
<circle cx="667.20" cy="409.40" r="1.75" fill="none" stroke="#231f20" stroke-width="0.8"/>
<circle cx="665.70" cy="419.10" r="1.75" fill="none" stroke="#231f20" stroke-width="0.8"/>
<circle cx="665.70" cy="425.80" r="1.75" fill="none" stroke="#231f20" stroke-width="0.8"/>
<line x1="607.15" y1="454.44" x2="607.15" y2="458.44" stroke="#231f20" stroke-width="0.9"/>
<line x1="603.95" y1="454.44" x2="610.35" y2="454.44" stroke="#231f20" stroke-width="0.9"/>
<line x1="603.95" y1="458.44" x2="610.35" y2="458.44" stroke="#231f20" stroke-width="0.9"/>
<line x1="626.55" y1="453.02" x2="626.55" y2="459.02" stroke="#231f20" stroke-width="0.9"/>
<line x1="623.35" y1="453.02" x2="629.75" y2="453.02" stroke="#231f20" stroke-width="0.9"/>
<line x1="623.35" y1="459.02" x2="629.75" y2="459.02" stroke="#231f20" stroke-width="0.9"/>
<line x1="646.05" y1="423.46" x2="646.05" y2="431.46" stroke="#231f20" stroke-width="0.9"/>
<line x1="642.85" y1="423.46" x2="649.25" y2="423.46" stroke="#231f20" stroke-width="0.9"/>
<line x1="642.85" y1="431.46" x2="649.25" y2="431.46" stroke="#231f20" stroke-width="0.9"/>
<line x1="665.65" y1="409.34" x2="665.65" y2="415.34" stroke="#231f20" stroke-width="0.9"/>
<line x1="662.45" y1="409.34" x2="668.85" y2="409.34" stroke="#231f20" stroke-width="0.9"/>
<line x1="662.45" y1="415.34" x2="668.85" y2="415.34" stroke="#231f20" stroke-width="0.9"/>
<line x1="607.20" y1="375.30" x2="665.70" y2="375.30" stroke="#444" stroke-width="1.3"/>
<circle cx="632.55" cy="371.70" r="0.9" fill="#222" stroke="none" stroke-width="0"/>
<circle cx="635.32" cy="371.70" r="0.9" fill="#222" stroke="none" stroke-width="0"/>
<circle cx="638.09" cy="371.70" r="0.9" fill="#222" stroke="none" stroke-width="0"/>
<circle cx="640.86" cy="371.70" r="0.9" fill="#222" stroke="none" stroke-width="0"/>
<line x1="626.30" y1="381.40" x2="664.80" y2="381.40" stroke="#444" stroke-width="1.3"/>
<circle cx="641.55" cy="379.40" r="0.9" fill="#222" stroke="none" stroke-width="0"/>
<circle cx="644.32" cy="379.40" r="0.9" fill="#222" stroke="none" stroke-width="0"/>
<circle cx="647.09" cy="379.40" r="0.9" fill="#222" stroke="none" stroke-width="0"/>
<circle cx="649.86" cy="379.40" r="0.9" fill="#222" stroke="none" stroke-width="0"/>
<line x1="606.10" y1="388.40" x2="645.00" y2="388.40" stroke="#444" stroke-width="1.3"/>
<circle cx="621.45" cy="386.30" r="0.9" fill="#222" stroke="none" stroke-width="0"/>
<circle cx="624.22" cy="386.30" r="0.9" fill="#222" stroke="none" stroke-width="0"/>
<circle cx="626.99" cy="386.30" r="0.9" fill="#222" stroke="none" stroke-width="0"/>
<circle cx="629.75" cy="386.30" r="0.9" fill="#222" stroke="none" stroke-width="0"/>
<line x1="628.00" y1="396.30" x2="645.60" y2="396.30" stroke="#444" stroke-width="1.3"/>
<circle cx="634.33" cy="393.90" r="0.9" fill="#222" stroke="none" stroke-width="0"/>
<circle cx="637.10" cy="393.90" r="0.9" fill="#222" stroke="none" stroke-width="0"/>
<circle cx="639.87" cy="393.90" r="0.9" fill="#222" stroke="none" stroke-width="0"/>
<line x1="647.90" y1="396.30" x2="665.70" y2="396.30" stroke="#444" stroke-width="1.3"/>
<circle cx="655.51" cy="393.90" r="0.9" fill="#222" stroke="none" stroke-width="0"/>
<circle cx="658.28" cy="393.90" r="0.9" fill="#222" stroke="none" stroke-width="0"/>
<text x="608.10" y="481.20" font-size="7.6" text-anchor="middle" fill="#231f20" stroke="#231f20" stroke-width="0.18">Cont</text>
<text x="626.70" y="481.20" font-size="7.6" text-anchor="middle" fill="#231f20" stroke="#231f20" stroke-width="0.18">cKO</text>
<text x="646.10" y="481.20" font-size="7.6" text-anchor="middle" fill="#231f20" stroke="#231f20" stroke-width="0.18">Cont</text>
<text x="665.40" y="481.20" font-size="7.6" text-anchor="middle" fill="#231f20" stroke="#231f20" stroke-width="0.18">cKO</text>
<line x1="600.50" y1="484.80" x2="631.80" y2="484.80" stroke="#999" stroke-width="1.2"/>
<text x="616.10" y="491.80" font-size="7.35" text-anchor="middle" fill="#231f20" stroke="#231f20" stroke-width="0.18">+saline</text>
<line x1="639.40" y1="484.80" x2="670.70" y2="484.80" stroke="#999" stroke-width="1.2"/>
<text x="654.60" y="491.80" font-size="7.35" text-anchor="middle" fill="#231f20" stroke="#231f20" stroke-width="0.18">+cocaine</text>
<text x="576.20" y="428.70" font-size="7.45" text-anchor="middle" fill="#231f20" stroke="#231f20" stroke-width="0.18" transform="rotate(-90 576.2 428.7)">Travel distance (m)</text></svg></body></html>
